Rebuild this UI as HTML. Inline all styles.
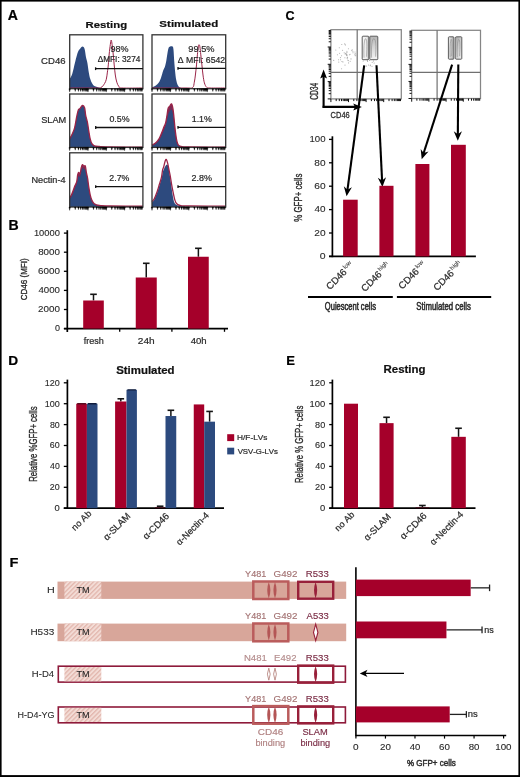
<!DOCTYPE html>
<html><head><meta charset="utf-8"><style>
html,body{margin:0;padding:0;background:#fff;overflow:hidden;width:520px;height:777px;}
svg{display:block;}
text{font-family:"Liberation Sans",sans-serif;font-kerning:none;}
</style></head><body>
<svg width="520" height="777" viewBox="0 0 520 777" style="will-change:transform;filter:blur(0.35px)">
<rect x="0" y="0" width="520" height="777" fill="#fff"/>
<rect x="0" y="0" width="1.6" height="777" fill="#000"/><rect x="0" y="0" width="520" height="1.6" fill="#000"/><rect x="518.4" y="0" width="1.6" height="777" fill="#000"/><rect x="0" y="775.1" width="520" height="1.9" fill="#000"/>
<text transform="translate(7.85,19.65) scale(1.025,1)" font-size="13.74" font-weight="bold" fill="#000" stroke="#000" stroke-width="0.215">A</text>
<text transform="translate(8.46,229.65) scale(0.985,1)" font-size="14.32" font-weight="bold" fill="#000" stroke="#000" stroke-width="0.223">B</text>
<text transform="translate(285.49,19.50) scale(0.942,1)" font-size="13.32" font-weight="bold" fill="#000" stroke="#000" stroke-width="0.234">C</text>
<text transform="translate(8.28,364.50) scale(1.036,1)" font-size="13.23" font-weight="bold" fill="#000" stroke="#000" stroke-width="0.212">D</text>
<text transform="translate(286.23,364.50) scale(0.984,1)" font-size="13.23" font-weight="bold" fill="#000" stroke="#000" stroke-width="0.224">E</text>
<text transform="translate(9.42,566.50) scale(1.115,1)" font-size="13.08" font-weight="bold" fill="#000" stroke="#000" stroke-width="0.197">F</text>
<text transform="translate(85.54,27.50) scale(1.227,1)" font-size="9.25" font-weight="bold" fill="#111" stroke="#111" stroke-width="0.179">Resting</text>
<text transform="translate(159.37,27.40) scale(1.195,1)" font-size="9.66" font-weight="bold" fill="#111" stroke="#111" stroke-width="0.184">Stimulated</text>
<text transform="translate(41.12,64.40) scale(0.995,1)" font-size="9.60" fill="#2a2a2a" stroke="#2a2a2a" stroke-width="0.221">CD46</text>
<text transform="translate(41.18,123.30) scale(1.076,1)" font-size="8.59" fill="#2a2a2a" stroke="#2a2a2a" stroke-width="0.204">SLAM</text>
<text transform="translate(31.45,183.10) scale(1.006,1)" font-size="9.11" fill="#2a2a2a" stroke="#2a2a2a" stroke-width="0.219">Nectin-4</text>
<path d="M69.70,78.80 C70.12,77.98 71.33,76.55 72.20,73.90 C73.07,71.25 74.15,65.90 74.90,62.90 C75.65,59.90 76.12,57.87 76.70,55.90 C77.28,53.93 77.83,52.30 78.40,51.10 C78.97,49.90 79.42,49.45 80.10,48.70 C80.78,47.95 81.75,46.55 82.50,46.60 C83.25,46.65 84.02,47.22 84.60,49.00 C85.18,50.78 85.53,54.98 86.00,57.30 C86.47,59.62 86.93,60.37 87.40,62.90 C87.87,65.43 88.33,69.85 88.80,72.50 C89.27,75.15 89.63,76.95 90.20,78.80 C90.77,80.65 91.52,82.38 92.20,83.60 C92.88,84.82 93.48,85.52 94.30,86.10 C95.12,86.68 96.15,86.82 97.10,87.10 C98.05,87.38 99.02,87.62 100.00,87.80 C100.98,87.98 102.50,88.13 103.00,88.20 L103.00,88.70 L69.70,88.70 Z" fill="#2d4a7e"/>
<path d="M69.70,88.00 C73.92,88.00 89.80,88.07 95.00,88.00 C100.20,87.93 99.32,88.33 100.90,87.60 C102.48,86.87 103.60,84.98 104.50,83.60 C105.40,82.22 105.82,81.22 106.30,79.30 C106.78,77.38 107.07,74.50 107.40,72.10 C107.73,69.70 108.00,67.92 108.30,64.90 C108.60,61.88 108.87,57.37 109.20,54.00 C109.53,50.63 109.97,47.03 110.30,44.70 C110.63,42.37 110.90,40.00 111.20,40.00 C111.50,40.00 111.77,42.37 112.10,44.70 C112.43,47.03 112.85,50.63 113.20,54.00 C113.55,57.37 113.85,61.40 114.20,64.90 C114.55,68.40 114.87,72.12 115.30,75.00 C115.73,77.88 116.20,80.28 116.80,82.20 C117.40,84.12 118.07,85.53 118.90,86.50 C119.73,87.47 117.80,87.75 121.80,88.00 C125.80,88.25 139.38,88.00 142.90,88.00" fill="none" stroke="#9a2448" stroke-width="1.0"/>
<rect x="69.70" y="34.80" width="73.20" height="53.90" fill="none" stroke="#333" stroke-width="1.3" />
<path d="M68.95,88.70 L70.45,88.70 L69.70,92.10 Z" fill="#000" stroke="#000" stroke-width="0.3"/>
<path d="M74.46,88.70 L75.96,88.70 L75.21,91.50 Z" fill="#000" stroke="#000" stroke-width="0.3"/>
<path d="M77.68,88.70 L79.18,88.70 L78.43,91.50 Z" fill="#000" stroke="#000" stroke-width="0.3"/>
<path d="M79.97,88.70 L81.47,88.70 L80.72,91.50 Z" fill="#000" stroke="#000" stroke-width="0.3"/>
<path d="M81.74,88.70 L83.24,88.70 L82.49,91.50 Z" fill="#000" stroke="#000" stroke-width="0.3"/>
<path d="M83.19,88.70 L84.69,88.70 L83.94,91.50 Z" fill="#000" stroke="#000" stroke-width="0.3"/>
<path d="M84.42,88.70 L85.92,88.70 L85.17,91.50 Z" fill="#000" stroke="#000" stroke-width="0.3"/>
<path d="M85.48,88.70 L86.98,88.70 L86.23,91.50 Z" fill="#000" stroke="#000" stroke-width="0.3"/>
<path d="M86.41,88.70 L87.91,88.70 L87.16,91.50 Z" fill="#000" stroke="#000" stroke-width="0.3"/>
<path d="M87.25,88.70 L88.75,88.70 L88.00,92.10 Z" fill="#000" stroke="#000" stroke-width="0.3"/>
<path d="M92.76,88.70 L94.26,88.70 L93.51,91.50 Z" fill="#000" stroke="#000" stroke-width="0.3"/>
<path d="M95.98,88.70 L97.48,88.70 L96.73,91.50 Z" fill="#000" stroke="#000" stroke-width="0.3"/>
<path d="M98.27,88.70 L99.77,88.70 L99.02,91.50 Z" fill="#000" stroke="#000" stroke-width="0.3"/>
<path d="M100.04,88.70 L101.54,88.70 L100.79,91.50 Z" fill="#000" stroke="#000" stroke-width="0.3"/>
<path d="M101.49,88.70 L102.99,88.70 L102.24,91.50 Z" fill="#000" stroke="#000" stroke-width="0.3"/>
<path d="M102.72,88.70 L104.22,88.70 L103.47,91.50 Z" fill="#000" stroke="#000" stroke-width="0.3"/>
<path d="M103.78,88.70 L105.28,88.70 L104.53,91.50 Z" fill="#000" stroke="#000" stroke-width="0.3"/>
<path d="M104.71,88.70 L106.21,88.70 L105.46,91.50 Z" fill="#000" stroke="#000" stroke-width="0.3"/>
<path d="M105.55,88.70 L107.05,88.70 L106.30,92.10 Z" fill="#000" stroke="#000" stroke-width="0.3"/>
<path d="M111.06,88.70 L112.56,88.70 L111.81,91.50 Z" fill="#000" stroke="#000" stroke-width="0.3"/>
<path d="M114.28,88.70 L115.78,88.70 L115.03,91.50 Z" fill="#000" stroke="#000" stroke-width="0.3"/>
<path d="M116.57,88.70 L118.07,88.70 L117.32,91.50 Z" fill="#000" stroke="#000" stroke-width="0.3"/>
<path d="M118.34,88.70 L119.84,88.70 L119.09,91.50 Z" fill="#000" stroke="#000" stroke-width="0.3"/>
<path d="M119.79,88.70 L121.29,88.70 L120.54,91.50 Z" fill="#000" stroke="#000" stroke-width="0.3"/>
<path d="M121.02,88.70 L122.52,88.70 L121.77,91.50 Z" fill="#000" stroke="#000" stroke-width="0.3"/>
<path d="M122.08,88.70 L123.58,88.70 L122.83,91.50 Z" fill="#000" stroke="#000" stroke-width="0.3"/>
<path d="M123.01,88.70 L124.51,88.70 L123.76,91.50 Z" fill="#000" stroke="#000" stroke-width="0.3"/>
<path d="M123.85,88.70 L125.35,88.70 L124.60,92.10 Z" fill="#000" stroke="#000" stroke-width="0.3"/>
<path d="M129.36,88.70 L130.86,88.70 L130.11,91.50 Z" fill="#000" stroke="#000" stroke-width="0.3"/>
<path d="M132.58,88.70 L134.08,88.70 L133.33,91.50 Z" fill="#000" stroke="#000" stroke-width="0.3"/>
<path d="M134.87,88.70 L136.37,88.70 L135.62,91.50 Z" fill="#000" stroke="#000" stroke-width="0.3"/>
<path d="M136.64,88.70 L138.14,88.70 L137.39,91.50 Z" fill="#000" stroke="#000" stroke-width="0.3"/>
<path d="M138.09,88.70 L139.59,88.70 L138.84,91.50 Z" fill="#000" stroke="#000" stroke-width="0.3"/>
<path d="M139.32,88.70 L140.82,88.70 L140.07,91.50 Z" fill="#000" stroke="#000" stroke-width="0.3"/>
<path d="M140.38,88.70 L141.88,88.70 L141.13,91.50 Z" fill="#000" stroke="#000" stroke-width="0.3"/>
<path d="M141.31,88.70 L142.81,88.70 L142.06,91.50 Z" fill="#000" stroke="#000" stroke-width="0.3"/>
<path d="M69.70,138.90 C70.12,138.08 71.38,135.85 72.20,134.00 C73.02,132.15 73.85,130.68 74.60,127.80 C75.35,124.92 76.07,119.70 76.70,116.70 C77.33,113.70 77.83,111.18 78.40,109.80 C78.97,108.42 79.42,109.15 80.10,108.40 C80.78,107.65 81.75,105.42 82.50,105.30 C83.25,105.18 84.07,106.03 84.60,107.70 C85.13,109.37 85.23,112.88 85.70,115.30 C86.17,117.72 86.88,119.55 87.40,122.20 C87.92,124.85 88.33,128.42 88.80,131.20 C89.27,133.98 89.68,136.82 90.20,138.90 C90.72,140.98 91.22,142.55 91.90,143.70 C92.58,144.85 93.08,145.33 94.30,145.80 C95.52,146.27 96.58,146.30 99.20,146.50 C101.82,146.70 102.72,146.90 110.00,147.00 C117.28,147.10 137.42,147.08 142.90,147.10 L142.90,147.40 L69.70,147.40 Z" fill="#7a2a55"/>
<path d="M69.70,139.40 C70.12,138.58 71.38,136.35 72.20,134.50 C73.02,132.65 73.85,131.13 74.60,128.30 C75.35,125.47 76.07,120.42 76.70,117.50 C77.33,114.58 77.83,112.22 78.40,110.80 C78.97,109.38 79.42,109.75 80.10,109.00 C80.78,108.25 81.75,106.35 82.50,106.30 C83.25,106.25 84.07,107.12 84.60,108.70 C85.13,110.28 85.23,113.47 85.70,115.80 C86.17,118.13 86.88,120.08 87.40,122.70 C87.92,125.32 88.33,128.78 88.80,131.50 C89.27,134.22 89.68,136.97 90.20,139.00 C90.72,141.03 91.22,142.57 91.90,143.70 C92.58,144.83 93.08,145.33 94.30,145.80 C95.52,146.27 97.75,146.30 99.20,146.50 C100.65,146.70 102.37,146.92 103.00,147.00 L103.00,147.40 L69.70,147.40 Z" fill="#2d4a7e"/>
<path d="M69.70,138.90 C70.12,138.08 71.38,135.85 72.20,134.00 C73.02,132.15 73.85,130.68 74.60,127.80 C75.35,124.92 76.07,119.70 76.70,116.70 C77.33,113.70 77.83,111.18 78.40,109.80 C78.97,108.42 79.42,109.15 80.10,108.40 C80.78,107.65 81.75,105.42 82.50,105.30 C83.25,105.18 84.07,106.03 84.60,107.70 C85.13,109.37 85.23,112.88 85.70,115.30 C86.17,117.72 86.88,119.55 87.40,122.20 C87.92,124.85 88.33,128.42 88.80,131.20 C89.27,133.98 89.68,136.82 90.20,138.90 C90.72,140.98 91.22,142.55 91.90,143.70 C92.58,144.85 93.08,145.33 94.30,145.80 C95.52,146.27 96.58,146.30 99.20,146.50 C101.82,146.70 102.72,146.90 110.00,147.00 C117.28,147.10 137.42,147.08 142.90,147.10" fill="none" stroke="#9a2448" stroke-width="1.3"/>
<rect x="69.70" y="94.00" width="73.20" height="53.40" fill="none" stroke="#333" stroke-width="1.3" />
<path d="M68.95,147.40 L70.45,147.40 L69.70,150.80 Z" fill="#000" stroke="#000" stroke-width="0.3"/>
<path d="M74.46,147.40 L75.96,147.40 L75.21,150.20 Z" fill="#000" stroke="#000" stroke-width="0.3"/>
<path d="M77.68,147.40 L79.18,147.40 L78.43,150.20 Z" fill="#000" stroke="#000" stroke-width="0.3"/>
<path d="M79.97,147.40 L81.47,147.40 L80.72,150.20 Z" fill="#000" stroke="#000" stroke-width="0.3"/>
<path d="M81.74,147.40 L83.24,147.40 L82.49,150.20 Z" fill="#000" stroke="#000" stroke-width="0.3"/>
<path d="M83.19,147.40 L84.69,147.40 L83.94,150.20 Z" fill="#000" stroke="#000" stroke-width="0.3"/>
<path d="M84.42,147.40 L85.92,147.40 L85.17,150.20 Z" fill="#000" stroke="#000" stroke-width="0.3"/>
<path d="M85.48,147.40 L86.98,147.40 L86.23,150.20 Z" fill="#000" stroke="#000" stroke-width="0.3"/>
<path d="M86.41,147.40 L87.91,147.40 L87.16,150.20 Z" fill="#000" stroke="#000" stroke-width="0.3"/>
<path d="M87.25,147.40 L88.75,147.40 L88.00,150.80 Z" fill="#000" stroke="#000" stroke-width="0.3"/>
<path d="M92.76,147.40 L94.26,147.40 L93.51,150.20 Z" fill="#000" stroke="#000" stroke-width="0.3"/>
<path d="M95.98,147.40 L97.48,147.40 L96.73,150.20 Z" fill="#000" stroke="#000" stroke-width="0.3"/>
<path d="M98.27,147.40 L99.77,147.40 L99.02,150.20 Z" fill="#000" stroke="#000" stroke-width="0.3"/>
<path d="M100.04,147.40 L101.54,147.40 L100.79,150.20 Z" fill="#000" stroke="#000" stroke-width="0.3"/>
<path d="M101.49,147.40 L102.99,147.40 L102.24,150.20 Z" fill="#000" stroke="#000" stroke-width="0.3"/>
<path d="M102.72,147.40 L104.22,147.40 L103.47,150.20 Z" fill="#000" stroke="#000" stroke-width="0.3"/>
<path d="M103.78,147.40 L105.28,147.40 L104.53,150.20 Z" fill="#000" stroke="#000" stroke-width="0.3"/>
<path d="M104.71,147.40 L106.21,147.40 L105.46,150.20 Z" fill="#000" stroke="#000" stroke-width="0.3"/>
<path d="M105.55,147.40 L107.05,147.40 L106.30,150.80 Z" fill="#000" stroke="#000" stroke-width="0.3"/>
<path d="M111.06,147.40 L112.56,147.40 L111.81,150.20 Z" fill="#000" stroke="#000" stroke-width="0.3"/>
<path d="M114.28,147.40 L115.78,147.40 L115.03,150.20 Z" fill="#000" stroke="#000" stroke-width="0.3"/>
<path d="M116.57,147.40 L118.07,147.40 L117.32,150.20 Z" fill="#000" stroke="#000" stroke-width="0.3"/>
<path d="M118.34,147.40 L119.84,147.40 L119.09,150.20 Z" fill="#000" stroke="#000" stroke-width="0.3"/>
<path d="M119.79,147.40 L121.29,147.40 L120.54,150.20 Z" fill="#000" stroke="#000" stroke-width="0.3"/>
<path d="M121.02,147.40 L122.52,147.40 L121.77,150.20 Z" fill="#000" stroke="#000" stroke-width="0.3"/>
<path d="M122.08,147.40 L123.58,147.40 L122.83,150.20 Z" fill="#000" stroke="#000" stroke-width="0.3"/>
<path d="M123.01,147.40 L124.51,147.40 L123.76,150.20 Z" fill="#000" stroke="#000" stroke-width="0.3"/>
<path d="M123.85,147.40 L125.35,147.40 L124.60,150.80 Z" fill="#000" stroke="#000" stroke-width="0.3"/>
<path d="M129.36,147.40 L130.86,147.40 L130.11,150.20 Z" fill="#000" stroke="#000" stroke-width="0.3"/>
<path d="M132.58,147.40 L134.08,147.40 L133.33,150.20 Z" fill="#000" stroke="#000" stroke-width="0.3"/>
<path d="M134.87,147.40 L136.37,147.40 L135.62,150.20 Z" fill="#000" stroke="#000" stroke-width="0.3"/>
<path d="M136.64,147.40 L138.14,147.40 L137.39,150.20 Z" fill="#000" stroke="#000" stroke-width="0.3"/>
<path d="M138.09,147.40 L139.59,147.40 L138.84,150.20 Z" fill="#000" stroke="#000" stroke-width="0.3"/>
<path d="M139.32,147.40 L140.82,147.40 L140.07,150.20 Z" fill="#000" stroke="#000" stroke-width="0.3"/>
<path d="M140.38,147.40 L141.88,147.40 L141.13,150.20 Z" fill="#000" stroke="#000" stroke-width="0.3"/>
<path d="M141.31,147.40 L142.81,147.40 L142.06,150.20 Z" fill="#000" stroke="#000" stroke-width="0.3"/>
<path d="M69.70,197.60 C70.00,197.13 70.92,195.97 71.50,194.80 C72.08,193.63 72.63,192.10 73.20,190.60 C73.77,189.10 74.32,187.30 74.90,185.80 C75.48,184.30 76.23,183.45 76.70,181.60 C77.17,179.75 77.37,176.25 77.70,174.70 C78.03,173.15 78.30,172.42 78.70,172.30 C79.10,172.18 79.68,174.75 80.10,174.00 C80.52,173.25 80.80,169.35 81.20,167.80 C81.60,166.25 82.05,164.93 82.50,164.70 C82.95,164.47 83.43,166.18 83.90,166.40 C84.37,166.62 84.88,164.97 85.30,166.00 C85.72,167.03 86.00,170.45 86.40,172.60 C86.80,174.75 87.30,176.47 87.70,178.90 C88.10,181.33 88.38,184.55 88.80,187.20 C89.22,189.85 89.68,192.62 90.20,194.80 C90.72,196.98 91.22,198.80 91.90,200.30 C92.58,201.80 93.08,202.93 94.30,203.80 C95.52,204.67 96.58,205.13 99.20,205.50 C101.82,205.87 102.72,205.90 110.00,206.00 C117.28,206.10 137.42,206.08 142.90,206.10 L142.90,207.00 L69.70,207.00 Z" fill="#7a2a55"/>
<path d="M69.70,199.00 C70.00,198.58 70.92,197.58 71.50,196.50 C72.08,195.42 72.63,193.92 73.20,192.50 C73.77,191.08 74.32,189.42 74.90,188.00 C75.48,186.58 76.23,185.67 76.70,184.00 C77.17,182.33 77.37,179.33 77.70,178.00 C78.03,176.67 78.30,176.17 78.70,176.00 C79.10,175.83 79.68,177.83 80.10,177.00 C80.52,176.17 80.80,172.50 81.20,171.00 C81.60,169.50 82.05,168.25 82.50,168.00 C82.95,167.75 83.43,169.33 83.90,169.50 C84.37,169.67 84.88,168.08 85.30,169.00 C85.72,169.92 86.00,173.00 86.40,175.00 C86.80,177.00 87.30,178.67 87.70,181.00 C88.10,183.33 88.38,186.50 88.80,189.00 C89.22,191.50 89.68,194.00 90.20,196.00 C90.72,198.00 91.22,199.63 91.90,201.00 C92.58,202.37 93.08,203.43 94.30,204.20 C95.52,204.97 97.58,205.30 99.20,205.60 C100.82,205.90 103.20,205.93 104.00,206.00 L104.00,207.00 L69.70,207.00 Z" fill="#2d4a7e"/>
<path d="M69.70,197.60 C70.00,197.13 70.92,195.97 71.50,194.80 C72.08,193.63 72.63,192.10 73.20,190.60 C73.77,189.10 74.32,187.30 74.90,185.80 C75.48,184.30 76.23,183.45 76.70,181.60 C77.17,179.75 77.37,176.25 77.70,174.70 C78.03,173.15 78.30,172.42 78.70,172.30 C79.10,172.18 79.68,174.75 80.10,174.00 C80.52,173.25 80.80,169.35 81.20,167.80 C81.60,166.25 82.05,164.93 82.50,164.70 C82.95,164.47 83.43,166.18 83.90,166.40 C84.37,166.62 84.88,164.97 85.30,166.00 C85.72,167.03 86.00,170.45 86.40,172.60 C86.80,174.75 87.30,176.47 87.70,178.90 C88.10,181.33 88.38,184.55 88.80,187.20 C89.22,189.85 89.68,192.62 90.20,194.80 C90.72,196.98 91.22,198.80 91.90,200.30 C92.58,201.80 93.08,202.93 94.30,203.80 C95.52,204.67 96.58,205.13 99.20,205.50 C101.82,205.87 102.72,205.90 110.00,206.00 C117.28,206.10 137.42,206.08 142.90,206.10" fill="none" stroke="#9a2448" stroke-width="1.3"/>
<rect x="69.70" y="152.80" width="73.20" height="54.20" fill="none" stroke="#333" stroke-width="1.3" />
<path d="M68.95,207.00 L70.45,207.00 L69.70,210.40 Z" fill="#000" stroke="#000" stroke-width="0.3"/>
<path d="M74.46,207.00 L75.96,207.00 L75.21,209.80 Z" fill="#000" stroke="#000" stroke-width="0.3"/>
<path d="M77.68,207.00 L79.18,207.00 L78.43,209.80 Z" fill="#000" stroke="#000" stroke-width="0.3"/>
<path d="M79.97,207.00 L81.47,207.00 L80.72,209.80 Z" fill="#000" stroke="#000" stroke-width="0.3"/>
<path d="M81.74,207.00 L83.24,207.00 L82.49,209.80 Z" fill="#000" stroke="#000" stroke-width="0.3"/>
<path d="M83.19,207.00 L84.69,207.00 L83.94,209.80 Z" fill="#000" stroke="#000" stroke-width="0.3"/>
<path d="M84.42,207.00 L85.92,207.00 L85.17,209.80 Z" fill="#000" stroke="#000" stroke-width="0.3"/>
<path d="M85.48,207.00 L86.98,207.00 L86.23,209.80 Z" fill="#000" stroke="#000" stroke-width="0.3"/>
<path d="M86.41,207.00 L87.91,207.00 L87.16,209.80 Z" fill="#000" stroke="#000" stroke-width="0.3"/>
<path d="M87.25,207.00 L88.75,207.00 L88.00,210.40 Z" fill="#000" stroke="#000" stroke-width="0.3"/>
<path d="M92.76,207.00 L94.26,207.00 L93.51,209.80 Z" fill="#000" stroke="#000" stroke-width="0.3"/>
<path d="M95.98,207.00 L97.48,207.00 L96.73,209.80 Z" fill="#000" stroke="#000" stroke-width="0.3"/>
<path d="M98.27,207.00 L99.77,207.00 L99.02,209.80 Z" fill="#000" stroke="#000" stroke-width="0.3"/>
<path d="M100.04,207.00 L101.54,207.00 L100.79,209.80 Z" fill="#000" stroke="#000" stroke-width="0.3"/>
<path d="M101.49,207.00 L102.99,207.00 L102.24,209.80 Z" fill="#000" stroke="#000" stroke-width="0.3"/>
<path d="M102.72,207.00 L104.22,207.00 L103.47,209.80 Z" fill="#000" stroke="#000" stroke-width="0.3"/>
<path d="M103.78,207.00 L105.28,207.00 L104.53,209.80 Z" fill="#000" stroke="#000" stroke-width="0.3"/>
<path d="M104.71,207.00 L106.21,207.00 L105.46,209.80 Z" fill="#000" stroke="#000" stroke-width="0.3"/>
<path d="M105.55,207.00 L107.05,207.00 L106.30,210.40 Z" fill="#000" stroke="#000" stroke-width="0.3"/>
<path d="M111.06,207.00 L112.56,207.00 L111.81,209.80 Z" fill="#000" stroke="#000" stroke-width="0.3"/>
<path d="M114.28,207.00 L115.78,207.00 L115.03,209.80 Z" fill="#000" stroke="#000" stroke-width="0.3"/>
<path d="M116.57,207.00 L118.07,207.00 L117.32,209.80 Z" fill="#000" stroke="#000" stroke-width="0.3"/>
<path d="M118.34,207.00 L119.84,207.00 L119.09,209.80 Z" fill="#000" stroke="#000" stroke-width="0.3"/>
<path d="M119.79,207.00 L121.29,207.00 L120.54,209.80 Z" fill="#000" stroke="#000" stroke-width="0.3"/>
<path d="M121.02,207.00 L122.52,207.00 L121.77,209.80 Z" fill="#000" stroke="#000" stroke-width="0.3"/>
<path d="M122.08,207.00 L123.58,207.00 L122.83,209.80 Z" fill="#000" stroke="#000" stroke-width="0.3"/>
<path d="M123.01,207.00 L124.51,207.00 L123.76,209.80 Z" fill="#000" stroke="#000" stroke-width="0.3"/>
<path d="M123.85,207.00 L125.35,207.00 L124.60,210.40 Z" fill="#000" stroke="#000" stroke-width="0.3"/>
<path d="M129.36,207.00 L130.86,207.00 L130.11,209.80 Z" fill="#000" stroke="#000" stroke-width="0.3"/>
<path d="M132.58,207.00 L134.08,207.00 L133.33,209.80 Z" fill="#000" stroke="#000" stroke-width="0.3"/>
<path d="M134.87,207.00 L136.37,207.00 L135.62,209.80 Z" fill="#000" stroke="#000" stroke-width="0.3"/>
<path d="M136.64,207.00 L138.14,207.00 L137.39,209.80 Z" fill="#000" stroke="#000" stroke-width="0.3"/>
<path d="M138.09,207.00 L139.59,207.00 L138.84,209.80 Z" fill="#000" stroke="#000" stroke-width="0.3"/>
<path d="M139.32,207.00 L140.82,207.00 L140.07,209.80 Z" fill="#000" stroke="#000" stroke-width="0.3"/>
<path d="M140.38,207.00 L141.88,207.00 L141.13,209.80 Z" fill="#000" stroke="#000" stroke-width="0.3"/>
<path d="M141.31,207.00 L142.81,207.00 L142.06,209.80 Z" fill="#000" stroke="#000" stroke-width="0.3"/>
<path d="M152.00,87.10 C152.58,86.87 154.33,86.52 155.50,85.70 C156.67,84.88 158.07,83.58 159.00,82.20 C159.93,80.82 160.40,79.35 161.10,77.40 C161.80,75.45 162.57,72.28 163.20,70.50 C163.83,68.72 164.38,68.32 164.90,66.70 C165.42,65.08 165.83,63.28 166.30,60.80 C166.77,58.32 167.32,53.93 167.70,51.80 C168.08,49.67 168.20,48.87 168.60,48.00 C169.00,47.13 169.45,46.83 170.10,46.60 C170.75,46.37 171.93,46.08 172.50,46.60 C173.07,47.12 173.22,47.33 173.50,49.70 C173.78,52.07 173.90,56.88 174.20,60.80 C174.50,64.72 174.95,69.97 175.30,73.20 C175.65,76.43 175.90,78.23 176.30,80.20 C176.70,82.17 177.12,83.80 177.70,85.00 C178.28,86.20 178.88,86.90 179.80,87.40 C180.72,87.90 182.63,87.90 183.20,88.00 L183.20,88.70 L152.00,88.70 Z" fill="#2d4a7e"/>
<path d="M152.00,88.00 C157.50,88.00 178.25,88.07 185.00,88.00 C191.75,87.93 190.95,88.57 192.50,87.60 C194.05,86.63 193.82,84.30 194.30,82.20 C194.78,80.10 195.03,77.88 195.40,75.00 C195.77,72.12 196.17,68.27 196.50,64.90 C196.83,61.53 197.10,57.82 197.40,54.80 C197.70,51.78 198.03,48.48 198.30,46.80 C198.57,45.12 198.73,44.70 199.00,44.70 C199.27,44.70 199.60,45.12 199.90,46.80 C200.20,48.48 200.47,51.78 200.80,54.80 C201.13,57.82 201.53,61.53 201.90,64.90 C202.27,68.27 202.58,72.00 203.00,75.00 C203.42,78.00 203.80,80.87 204.40,82.90 C205.00,84.93 205.67,86.35 206.60,87.20 C207.53,88.05 206.82,87.87 210.00,88.00 C213.18,88.13 223.08,88.00 225.70,88.00" fill="none" stroke="#9a2448" stroke-width="1.0"/>
<rect x="152.00" y="34.80" width="73.70" height="53.90" fill="none" stroke="#333" stroke-width="1.3" />
<path d="M151.25,88.70 L152.75,88.70 L152.00,92.10 Z" fill="#000" stroke="#000" stroke-width="0.3"/>
<path d="M156.80,88.70 L158.30,88.70 L157.55,91.50 Z" fill="#000" stroke="#000" stroke-width="0.3"/>
<path d="M160.04,88.70 L161.54,88.70 L160.79,91.50 Z" fill="#000" stroke="#000" stroke-width="0.3"/>
<path d="M162.34,88.70 L163.84,88.70 L163.09,91.50 Z" fill="#000" stroke="#000" stroke-width="0.3"/>
<path d="M164.13,88.70 L165.63,88.70 L164.88,91.50 Z" fill="#000" stroke="#000" stroke-width="0.3"/>
<path d="M165.59,88.70 L167.09,88.70 L166.34,91.50 Z" fill="#000" stroke="#000" stroke-width="0.3"/>
<path d="M166.82,88.70 L168.32,88.70 L167.57,91.50 Z" fill="#000" stroke="#000" stroke-width="0.3"/>
<path d="M167.89,88.70 L169.39,88.70 L168.64,91.50 Z" fill="#000" stroke="#000" stroke-width="0.3"/>
<path d="M168.83,88.70 L170.33,88.70 L169.58,91.50 Z" fill="#000" stroke="#000" stroke-width="0.3"/>
<path d="M169.68,88.70 L171.18,88.70 L170.43,92.10 Z" fill="#000" stroke="#000" stroke-width="0.3"/>
<path d="M175.22,88.70 L176.72,88.70 L175.97,91.50 Z" fill="#000" stroke="#000" stroke-width="0.3"/>
<path d="M178.47,88.70 L179.97,88.70 L179.22,91.50 Z" fill="#000" stroke="#000" stroke-width="0.3"/>
<path d="M180.77,88.70 L182.27,88.70 L181.52,91.50 Z" fill="#000" stroke="#000" stroke-width="0.3"/>
<path d="M182.55,88.70 L184.05,88.70 L183.30,91.50 Z" fill="#000" stroke="#000" stroke-width="0.3"/>
<path d="M184.01,88.70 L185.51,88.70 L184.76,91.50 Z" fill="#000" stroke="#000" stroke-width="0.3"/>
<path d="M185.25,88.70 L186.75,88.70 L186.00,91.50 Z" fill="#000" stroke="#000" stroke-width="0.3"/>
<path d="M186.31,88.70 L187.81,88.70 L187.06,91.50 Z" fill="#000" stroke="#000" stroke-width="0.3"/>
<path d="M187.26,88.70 L188.76,88.70 L188.01,91.50 Z" fill="#000" stroke="#000" stroke-width="0.3"/>
<path d="M188.10,88.70 L189.60,88.70 L188.85,92.10 Z" fill="#000" stroke="#000" stroke-width="0.3"/>
<path d="M193.65,88.70 L195.15,88.70 L194.40,91.50 Z" fill="#000" stroke="#000" stroke-width="0.3"/>
<path d="M196.89,88.70 L198.39,88.70 L197.64,91.50 Z" fill="#000" stroke="#000" stroke-width="0.3"/>
<path d="M199.19,88.70 L200.69,88.70 L199.94,91.50 Z" fill="#000" stroke="#000" stroke-width="0.3"/>
<path d="M200.98,88.70 L202.48,88.70 L201.73,91.50 Z" fill="#000" stroke="#000" stroke-width="0.3"/>
<path d="M202.44,88.70 L203.94,88.70 L203.19,91.50 Z" fill="#000" stroke="#000" stroke-width="0.3"/>
<path d="M203.67,88.70 L205.17,88.70 L204.42,91.50 Z" fill="#000" stroke="#000" stroke-width="0.3"/>
<path d="M204.74,88.70 L206.24,88.70 L205.49,91.50 Z" fill="#000" stroke="#000" stroke-width="0.3"/>
<path d="M205.68,88.70 L207.18,88.70 L206.43,91.50 Z" fill="#000" stroke="#000" stroke-width="0.3"/>
<path d="M206.52,88.70 L208.02,88.70 L207.27,92.10 Z" fill="#000" stroke="#000" stroke-width="0.3"/>
<path d="M212.07,88.70 L213.57,88.70 L212.82,91.50 Z" fill="#000" stroke="#000" stroke-width="0.3"/>
<path d="M215.32,88.70 L216.82,88.70 L216.07,91.50 Z" fill="#000" stroke="#000" stroke-width="0.3"/>
<path d="M217.62,88.70 L219.12,88.70 L218.37,91.50 Z" fill="#000" stroke="#000" stroke-width="0.3"/>
<path d="M219.40,88.70 L220.90,88.70 L220.15,91.50 Z" fill="#000" stroke="#000" stroke-width="0.3"/>
<path d="M220.86,88.70 L222.36,88.70 L221.61,91.50 Z" fill="#000" stroke="#000" stroke-width="0.3"/>
<path d="M222.10,88.70 L223.60,88.70 L222.85,91.50 Z" fill="#000" stroke="#000" stroke-width="0.3"/>
<path d="M223.16,88.70 L224.66,88.70 L223.91,91.50 Z" fill="#000" stroke="#000" stroke-width="0.3"/>
<path d="M224.11,88.70 L225.61,88.70 L224.86,91.50 Z" fill="#000" stroke="#000" stroke-width="0.3"/>
<path d="M152.00,145.10 C152.58,144.75 154.33,144.03 155.50,143.00 C156.67,141.97 157.95,140.63 159.00,138.90 C160.05,137.17 160.98,134.57 161.80,132.60 C162.62,130.63 163.27,128.72 163.90,127.10 C164.53,125.48 165.08,124.87 165.60,122.90 C166.12,120.93 166.58,117.72 167.00,115.30 C167.42,112.88 167.65,109.90 168.10,108.40 C168.55,106.90 169.13,107.05 169.70,106.30 C170.27,105.55 170.97,103.55 171.50,103.90 C172.03,104.25 172.50,106.27 172.90,108.40 C173.30,110.53 173.57,113.58 173.90,116.70 C174.23,119.82 174.55,123.87 174.90,127.10 C175.25,130.33 175.65,133.68 176.00,136.10 C176.35,138.52 176.60,140.10 177.00,141.60 C177.40,143.10 177.70,144.28 178.40,145.10 C179.10,145.92 179.27,146.18 181.20,146.50 C183.13,146.82 182.58,146.90 190.00,147.00 C197.42,147.10 219.75,147.08 225.70,147.10 L225.70,147.40 L152.00,147.40 Z" fill="#7a2a55"/>
<path d="M152.00,145.80 C152.58,145.50 154.33,144.88 155.50,144.00 C156.67,143.12 157.95,142.00 159.00,140.50 C160.05,139.00 160.98,136.75 161.80,135.00 C162.62,133.25 163.27,131.50 163.90,130.00 C164.53,128.50 165.08,127.67 165.60,126.00 C166.12,124.33 166.53,122.00 167.00,120.00 C167.47,118.00 167.90,115.50 168.40,114.00 C168.90,112.50 169.48,111.75 170.00,111.00 C170.52,110.25 171.07,109.33 171.50,109.50 C171.93,109.67 172.27,110.42 172.60,112.00 C172.93,113.58 173.18,116.33 173.50,119.00 C173.82,121.67 174.17,125.08 174.50,128.00 C174.83,130.92 175.15,134.20 175.50,136.50 C175.85,138.80 176.15,140.33 176.60,141.80 C177.05,143.27 177.43,144.50 178.20,145.30 C178.97,146.10 180.70,146.38 181.20,146.60 L181.20,147.40 L152.00,147.40 Z" fill="#2d4a7e"/>
<path d="M152.00,145.10 C152.58,144.75 154.33,144.03 155.50,143.00 C156.67,141.97 157.95,140.63 159.00,138.90 C160.05,137.17 160.98,134.57 161.80,132.60 C162.62,130.63 163.27,128.72 163.90,127.10 C164.53,125.48 165.08,124.87 165.60,122.90 C166.12,120.93 166.58,117.72 167.00,115.30 C167.42,112.88 167.65,109.90 168.10,108.40 C168.55,106.90 169.13,107.05 169.70,106.30 C170.27,105.55 170.97,103.55 171.50,103.90 C172.03,104.25 172.50,106.27 172.90,108.40 C173.30,110.53 173.57,113.58 173.90,116.70 C174.23,119.82 174.55,123.87 174.90,127.10 C175.25,130.33 175.65,133.68 176.00,136.10 C176.35,138.52 176.60,140.10 177.00,141.60 C177.40,143.10 177.70,144.28 178.40,145.10 C179.10,145.92 179.27,146.18 181.20,146.50 C183.13,146.82 182.58,146.90 190.00,147.00 C197.42,147.10 219.75,147.08 225.70,147.10" fill="none" stroke="#9a2448" stroke-width="1.3"/>
<rect x="152.00" y="94.00" width="73.70" height="53.40" fill="none" stroke="#333" stroke-width="1.3" />
<path d="M151.25,147.40 L152.75,147.40 L152.00,150.80 Z" fill="#000" stroke="#000" stroke-width="0.3"/>
<path d="M156.80,147.40 L158.30,147.40 L157.55,150.20 Z" fill="#000" stroke="#000" stroke-width="0.3"/>
<path d="M160.04,147.40 L161.54,147.40 L160.79,150.20 Z" fill="#000" stroke="#000" stroke-width="0.3"/>
<path d="M162.34,147.40 L163.84,147.40 L163.09,150.20 Z" fill="#000" stroke="#000" stroke-width="0.3"/>
<path d="M164.13,147.40 L165.63,147.40 L164.88,150.20 Z" fill="#000" stroke="#000" stroke-width="0.3"/>
<path d="M165.59,147.40 L167.09,147.40 L166.34,150.20 Z" fill="#000" stroke="#000" stroke-width="0.3"/>
<path d="M166.82,147.40 L168.32,147.40 L167.57,150.20 Z" fill="#000" stroke="#000" stroke-width="0.3"/>
<path d="M167.89,147.40 L169.39,147.40 L168.64,150.20 Z" fill="#000" stroke="#000" stroke-width="0.3"/>
<path d="M168.83,147.40 L170.33,147.40 L169.58,150.20 Z" fill="#000" stroke="#000" stroke-width="0.3"/>
<path d="M169.68,147.40 L171.18,147.40 L170.43,150.80 Z" fill="#000" stroke="#000" stroke-width="0.3"/>
<path d="M175.22,147.40 L176.72,147.40 L175.97,150.20 Z" fill="#000" stroke="#000" stroke-width="0.3"/>
<path d="M178.47,147.40 L179.97,147.40 L179.22,150.20 Z" fill="#000" stroke="#000" stroke-width="0.3"/>
<path d="M180.77,147.40 L182.27,147.40 L181.52,150.20 Z" fill="#000" stroke="#000" stroke-width="0.3"/>
<path d="M182.55,147.40 L184.05,147.40 L183.30,150.20 Z" fill="#000" stroke="#000" stroke-width="0.3"/>
<path d="M184.01,147.40 L185.51,147.40 L184.76,150.20 Z" fill="#000" stroke="#000" stroke-width="0.3"/>
<path d="M185.25,147.40 L186.75,147.40 L186.00,150.20 Z" fill="#000" stroke="#000" stroke-width="0.3"/>
<path d="M186.31,147.40 L187.81,147.40 L187.06,150.20 Z" fill="#000" stroke="#000" stroke-width="0.3"/>
<path d="M187.26,147.40 L188.76,147.40 L188.01,150.20 Z" fill="#000" stroke="#000" stroke-width="0.3"/>
<path d="M188.10,147.40 L189.60,147.40 L188.85,150.80 Z" fill="#000" stroke="#000" stroke-width="0.3"/>
<path d="M193.65,147.40 L195.15,147.40 L194.40,150.20 Z" fill="#000" stroke="#000" stroke-width="0.3"/>
<path d="M196.89,147.40 L198.39,147.40 L197.64,150.20 Z" fill="#000" stroke="#000" stroke-width="0.3"/>
<path d="M199.19,147.40 L200.69,147.40 L199.94,150.20 Z" fill="#000" stroke="#000" stroke-width="0.3"/>
<path d="M200.98,147.40 L202.48,147.40 L201.73,150.20 Z" fill="#000" stroke="#000" stroke-width="0.3"/>
<path d="M202.44,147.40 L203.94,147.40 L203.19,150.20 Z" fill="#000" stroke="#000" stroke-width="0.3"/>
<path d="M203.67,147.40 L205.17,147.40 L204.42,150.20 Z" fill="#000" stroke="#000" stroke-width="0.3"/>
<path d="M204.74,147.40 L206.24,147.40 L205.49,150.20 Z" fill="#000" stroke="#000" stroke-width="0.3"/>
<path d="M205.68,147.40 L207.18,147.40 L206.43,150.20 Z" fill="#000" stroke="#000" stroke-width="0.3"/>
<path d="M206.52,147.40 L208.02,147.40 L207.27,150.80 Z" fill="#000" stroke="#000" stroke-width="0.3"/>
<path d="M212.07,147.40 L213.57,147.40 L212.82,150.20 Z" fill="#000" stroke="#000" stroke-width="0.3"/>
<path d="M215.32,147.40 L216.82,147.40 L216.07,150.20 Z" fill="#000" stroke="#000" stroke-width="0.3"/>
<path d="M217.62,147.40 L219.12,147.40 L218.37,150.20 Z" fill="#000" stroke="#000" stroke-width="0.3"/>
<path d="M219.40,147.40 L220.90,147.40 L220.15,150.20 Z" fill="#000" stroke="#000" stroke-width="0.3"/>
<path d="M220.86,147.40 L222.36,147.40 L221.61,150.20 Z" fill="#000" stroke="#000" stroke-width="0.3"/>
<path d="M222.10,147.40 L223.60,147.40 L222.85,150.20 Z" fill="#000" stroke="#000" stroke-width="0.3"/>
<path d="M223.16,147.40 L224.66,147.40 L223.91,150.20 Z" fill="#000" stroke="#000" stroke-width="0.3"/>
<path d="M224.11,147.40 L225.61,147.40 L224.86,150.20 Z" fill="#000" stroke="#000" stroke-width="0.3"/>
<path d="M152.00,201.60 C152.38,201.12 153.43,200.38 154.30,198.70 C155.17,197.02 156.35,193.90 157.20,191.50 C158.05,189.10 158.68,186.70 159.40,184.30 C160.12,181.90 160.97,179.50 161.50,177.10 C162.03,174.70 162.23,171.58 162.60,169.90 C162.97,168.22 163.28,168.45 163.70,167.00 C164.12,165.55 164.65,162.47 165.10,161.20 C165.55,159.93 165.97,159.03 166.40,159.40 C166.83,159.77 167.32,161.90 167.70,163.40 C168.08,164.90 168.28,166.37 168.70,168.40 C169.12,170.43 169.72,172.95 170.20,175.60 C170.68,178.25 171.12,181.53 171.60,184.30 C172.08,187.07 172.55,189.57 173.10,192.20 C173.65,194.83 174.30,198.18 174.90,200.10 C175.50,202.02 175.80,202.80 176.70,203.70 C177.60,204.60 178.08,205.12 180.30,205.50 C182.52,205.88 182.43,205.90 190.00,206.00 C197.57,206.10 219.75,206.08 225.70,206.10 L225.70,207.00 L152.00,207.00 Z" fill="#fff"/>
<path d="M152.00,202.60 C152.38,202.10 153.43,201.27 154.30,199.60 C155.17,197.93 156.35,194.93 157.20,192.60 C158.05,190.27 158.68,187.93 159.40,185.60 C160.12,183.27 160.93,180.83 161.50,178.60 C162.07,176.37 162.35,173.87 162.80,172.20 C163.25,170.53 163.73,169.67 164.20,168.60 C164.67,167.53 165.13,166.47 165.60,165.80 C166.07,165.13 166.55,164.48 167.00,164.60 C167.45,164.72 167.92,165.27 168.30,166.50 C168.68,167.73 168.92,169.67 169.30,172.00 C169.68,174.33 170.18,177.58 170.60,180.50 C171.02,183.42 171.40,186.75 171.80,189.50 C172.20,192.25 172.55,194.78 173.00,197.00 C173.45,199.22 173.77,201.43 174.50,202.80 C175.23,204.17 175.65,204.67 177.40,205.20 C179.15,205.73 183.73,205.87 185.00,206.00 L185.00,207.00 L152.00,207.00 Z" fill="#2d4a7e"/>
<path d="M152.00,201.60 C152.38,201.12 153.43,200.38 154.30,198.70 C155.17,197.02 156.35,193.90 157.20,191.50 C158.05,189.10 158.68,186.70 159.40,184.30 C160.12,181.90 160.97,179.50 161.50,177.10 C162.03,174.70 162.23,171.58 162.60,169.90 C162.97,168.22 163.28,168.45 163.70,167.00 C164.12,165.55 164.65,162.47 165.10,161.20 C165.55,159.93 165.97,159.03 166.40,159.40 C166.83,159.77 167.32,161.90 167.70,163.40 C168.08,164.90 168.28,166.37 168.70,168.40 C169.12,170.43 169.72,172.95 170.20,175.60 C170.68,178.25 171.12,181.53 171.60,184.30 C172.08,187.07 172.55,189.57 173.10,192.20 C173.65,194.83 174.30,198.18 174.90,200.10 C175.50,202.02 175.80,202.80 176.70,203.70 C177.60,204.60 178.08,205.12 180.30,205.50 C182.52,205.88 182.43,205.90 190.00,206.00 C197.57,206.10 219.75,206.08 225.70,206.10" fill="none" stroke="#9a2448" stroke-width="1.3"/>
<rect x="152.00" y="152.80" width="73.70" height="54.20" fill="none" stroke="#333" stroke-width="1.3" />
<path d="M151.25,207.00 L152.75,207.00 L152.00,210.40 Z" fill="#000" stroke="#000" stroke-width="0.3"/>
<path d="M156.80,207.00 L158.30,207.00 L157.55,209.80 Z" fill="#000" stroke="#000" stroke-width="0.3"/>
<path d="M160.04,207.00 L161.54,207.00 L160.79,209.80 Z" fill="#000" stroke="#000" stroke-width="0.3"/>
<path d="M162.34,207.00 L163.84,207.00 L163.09,209.80 Z" fill="#000" stroke="#000" stroke-width="0.3"/>
<path d="M164.13,207.00 L165.63,207.00 L164.88,209.80 Z" fill="#000" stroke="#000" stroke-width="0.3"/>
<path d="M165.59,207.00 L167.09,207.00 L166.34,209.80 Z" fill="#000" stroke="#000" stroke-width="0.3"/>
<path d="M166.82,207.00 L168.32,207.00 L167.57,209.80 Z" fill="#000" stroke="#000" stroke-width="0.3"/>
<path d="M167.89,207.00 L169.39,207.00 L168.64,209.80 Z" fill="#000" stroke="#000" stroke-width="0.3"/>
<path d="M168.83,207.00 L170.33,207.00 L169.58,209.80 Z" fill="#000" stroke="#000" stroke-width="0.3"/>
<path d="M169.68,207.00 L171.18,207.00 L170.43,210.40 Z" fill="#000" stroke="#000" stroke-width="0.3"/>
<path d="M175.22,207.00 L176.72,207.00 L175.97,209.80 Z" fill="#000" stroke="#000" stroke-width="0.3"/>
<path d="M178.47,207.00 L179.97,207.00 L179.22,209.80 Z" fill="#000" stroke="#000" stroke-width="0.3"/>
<path d="M180.77,207.00 L182.27,207.00 L181.52,209.80 Z" fill="#000" stroke="#000" stroke-width="0.3"/>
<path d="M182.55,207.00 L184.05,207.00 L183.30,209.80 Z" fill="#000" stroke="#000" stroke-width="0.3"/>
<path d="M184.01,207.00 L185.51,207.00 L184.76,209.80 Z" fill="#000" stroke="#000" stroke-width="0.3"/>
<path d="M185.25,207.00 L186.75,207.00 L186.00,209.80 Z" fill="#000" stroke="#000" stroke-width="0.3"/>
<path d="M186.31,207.00 L187.81,207.00 L187.06,209.80 Z" fill="#000" stroke="#000" stroke-width="0.3"/>
<path d="M187.26,207.00 L188.76,207.00 L188.01,209.80 Z" fill="#000" stroke="#000" stroke-width="0.3"/>
<path d="M188.10,207.00 L189.60,207.00 L188.85,210.40 Z" fill="#000" stroke="#000" stroke-width="0.3"/>
<path d="M193.65,207.00 L195.15,207.00 L194.40,209.80 Z" fill="#000" stroke="#000" stroke-width="0.3"/>
<path d="M196.89,207.00 L198.39,207.00 L197.64,209.80 Z" fill="#000" stroke="#000" stroke-width="0.3"/>
<path d="M199.19,207.00 L200.69,207.00 L199.94,209.80 Z" fill="#000" stroke="#000" stroke-width="0.3"/>
<path d="M200.98,207.00 L202.48,207.00 L201.73,209.80 Z" fill="#000" stroke="#000" stroke-width="0.3"/>
<path d="M202.44,207.00 L203.94,207.00 L203.19,209.80 Z" fill="#000" stroke="#000" stroke-width="0.3"/>
<path d="M203.67,207.00 L205.17,207.00 L204.42,209.80 Z" fill="#000" stroke="#000" stroke-width="0.3"/>
<path d="M204.74,207.00 L206.24,207.00 L205.49,209.80 Z" fill="#000" stroke="#000" stroke-width="0.3"/>
<path d="M205.68,207.00 L207.18,207.00 L206.43,209.80 Z" fill="#000" stroke="#000" stroke-width="0.3"/>
<path d="M206.52,207.00 L208.02,207.00 L207.27,210.40 Z" fill="#000" stroke="#000" stroke-width="0.3"/>
<path d="M212.07,207.00 L213.57,207.00 L212.82,209.80 Z" fill="#000" stroke="#000" stroke-width="0.3"/>
<path d="M215.32,207.00 L216.82,207.00 L216.07,209.80 Z" fill="#000" stroke="#000" stroke-width="0.3"/>
<path d="M217.62,207.00 L219.12,207.00 L218.37,209.80 Z" fill="#000" stroke="#000" stroke-width="0.3"/>
<path d="M219.40,207.00 L220.90,207.00 L220.15,209.80 Z" fill="#000" stroke="#000" stroke-width="0.3"/>
<path d="M220.86,207.00 L222.36,207.00 L221.61,209.80 Z" fill="#000" stroke="#000" stroke-width="0.3"/>
<path d="M222.10,207.00 L223.60,207.00 L222.85,209.80 Z" fill="#000" stroke="#000" stroke-width="0.3"/>
<path d="M223.16,207.00 L224.66,207.00 L223.91,209.80 Z" fill="#000" stroke="#000" stroke-width="0.3"/>
<path d="M224.11,207.00 L225.61,207.00 L224.86,209.80 Z" fill="#000" stroke="#000" stroke-width="0.3"/>
<line x1="95.60" y1="68.70" x2="142.90" y2="68.70" stroke="#111" stroke-width="1.3" />
<line x1="95.60" y1="67.30" x2="95.60" y2="70.10" stroke="#111" stroke-width="1.3" />
<line x1="178.00" y1="68.40" x2="225.70" y2="68.40" stroke="#111" stroke-width="1.3" />
<line x1="178.00" y1="67.00" x2="178.00" y2="69.80" stroke="#111" stroke-width="1.3" />
<line x1="95.70" y1="127.50" x2="142.90" y2="127.50" stroke="#111" stroke-width="1.3" />
<line x1="95.70" y1="126.10" x2="95.70" y2="128.90" stroke="#111" stroke-width="1.3" />
<line x1="178.00" y1="127.40" x2="225.70" y2="127.40" stroke="#111" stroke-width="1.3" />
<line x1="178.00" y1="126.00" x2="178.00" y2="128.80" stroke="#111" stroke-width="1.3" />
<line x1="95.70" y1="186.60" x2="142.90" y2="186.60" stroke="#111" stroke-width="1.3" />
<line x1="95.70" y1="185.20" x2="95.70" y2="188.00" stroke="#111" stroke-width="1.3" />
<line x1="178.00" y1="186.70" x2="225.70" y2="186.70" stroke="#111" stroke-width="1.3" />
<line x1="178.00" y1="185.30" x2="178.00" y2="188.10" stroke="#111" stroke-width="1.3" />
<text transform="translate(110.48,52.00) scale(1.104,1)" font-size="8.16" fill="#2a2a2a" stroke="#2a2a2a" stroke-width="0.199">98%</text>
<text transform="translate(97.65,62.10) scale(0.996,1)" font-size="8.31" fill="#2a2a2a" stroke="#2a2a2a" stroke-width="0.221">ΔMFI: 3274</text>
<text transform="translate(188.37,51.90) scale(1.130,1)" font-size="8.16" fill="#2a2a2a" stroke="#2a2a2a" stroke-width="0.195">99.5%</text>
<text transform="translate(177.84,62.90) scale(1.047,1)" font-size="8.31" fill="#2a2a2a" stroke="#2a2a2a" stroke-width="0.210">Δ MFI: 6542</text>
<text transform="translate(109.45,122.00) scale(0.996,1)" font-size="8.88" fill="#2a2a2a" stroke="#2a2a2a" stroke-width="0.221">0.5%</text>
<text transform="translate(191.73,122.10) scale(0.991,1)" font-size="8.94" fill="#2a2a2a" stroke="#2a2a2a" stroke-width="0.222">1.1%</text>
<text transform="translate(109.36,181.20) scale(1.007,1)" font-size="8.74" fill="#2a2a2a" stroke="#2a2a2a" stroke-width="0.218">2.7%</text>
<text transform="translate(191.45,181.10) scale(1.081,1)" font-size="8.31" fill="#2a2a2a" stroke="#2a2a2a" stroke-width="0.203">2.8%</text>
<line x1="67.30" y1="230.20" x2="67.30" y2="332.00" stroke="#000" stroke-width="1.7" />
<line x1="63.90" y1="328.60" x2="228.00" y2="328.60" stroke="#000" stroke-width="1.7" />
<line x1="63.90" y1="328.60" x2="67.30" y2="328.60" stroke="#000" stroke-width="1.3" />
<text transform="translate(54.95,331.45) scale(1.102,1)" font-size="8.16" fill="#2a2a2a" stroke="#2a2a2a" stroke-width="0.109">0</text>
<line x1="63.90" y1="309.50" x2="67.30" y2="309.50" stroke="#000" stroke-width="1.3" />
<text transform="translate(38.11,312.35) scale(1.205,1)" font-size="8.16" fill="#2a2a2a" stroke="#2a2a2a" stroke-width="0.100">2000</text>
<line x1="63.90" y1="290.40" x2="67.30" y2="290.40" stroke="#000" stroke-width="1.3" />
<text transform="translate(38.38,293.25) scale(1.190,1)" font-size="8.16" fill="#2a2a2a" stroke="#2a2a2a" stroke-width="0.101">4000</text>
<line x1="63.90" y1="271.30" x2="67.30" y2="271.30" stroke="#000" stroke-width="1.3" />
<text transform="translate(38.10,274.15) scale(1.205,1)" font-size="8.16" fill="#2a2a2a" stroke="#2a2a2a" stroke-width="0.100">6000</text>
<line x1="63.90" y1="252.20" x2="67.30" y2="252.20" stroke="#000" stroke-width="1.3" />
<text transform="translate(38.17,255.05) scale(1.201,1)" font-size="8.16" fill="#2a2a2a" stroke="#2a2a2a" stroke-width="0.100">8000</text>
<line x1="63.90" y1="233.10" x2="67.30" y2="233.10" stroke="#000" stroke-width="1.3" />
<text transform="translate(33.89,235.95) scale(1.149,1)" font-size="8.16" fill="#2a2a2a" stroke="#2a2a2a" stroke-width="0.104">10000</text>
<line x1="119.70" y1="328.60" x2="119.70" y2="331.80" stroke="#000" stroke-width="1.3" />
<line x1="171.90" y1="328.60" x2="171.90" y2="331.80" stroke="#000" stroke-width="1.3" />
<line x1="224.50" y1="328.60" x2="224.50" y2="331.80" stroke="#000" stroke-width="1.3" />
<line x1="93.50" y1="300.50" x2="93.50" y2="294.30" stroke="#151515" stroke-width="1.5" />
<line x1="90.20" y1="294.30" x2="96.80" y2="294.30" stroke="#151515" stroke-width="1.6" />
<rect x="83.20" y="300.50" width="20.60" height="28.10" fill="#a5002a" stroke="none" stroke-width="1" />
<line x1="146.25" y1="277.50" x2="146.25" y2="263.30" stroke="#151515" stroke-width="1.5" />
<line x1="142.95" y1="263.30" x2="149.55" y2="263.30" stroke="#151515" stroke-width="1.6" />
<rect x="135.75" y="277.50" width="21.00" height="51.10" fill="#a5002a" stroke="none" stroke-width="1" />
<line x1="198.38" y1="256.75" x2="198.38" y2="248.30" stroke="#151515" stroke-width="1.5" />
<line x1="195.07" y1="248.30" x2="201.68" y2="248.30" stroke="#151515" stroke-width="1.6" />
<rect x="188.00" y="256.75" width="20.75" height="71.85" fill="#a5002a" stroke="none" stroke-width="1" />
<text transform="translate(83.67,343.80) scale(0.979,1)" font-size="9.25" fill="#2a2a2a" stroke="#2a2a2a" stroke-width="0.225">fresh</text>
<text transform="translate(137.79,343.70) scale(1.181,1)" font-size="8.56" fill="#2a2a2a" stroke="#2a2a2a" stroke-width="0.186">24h</text>
<text transform="translate(190.68,343.70) scale(1.117,1)" font-size="8.56" fill="#2a2a2a" stroke="#2a2a2a" stroke-width="0.197">40h</text>
<text transform="translate(26.80,300.31) rotate(-90) scale(0.810,1)" font-size="9.94" fill="#2a2a2a" stroke="#2a2a2a" stroke-width="0.352">CD46 (MFI)</text>
<rect x="330.90" y="29.70" width="70.40" height="69.20" fill="none" stroke="#858585" stroke-width="1.25" />
<line x1="357.20" y1="29.70" x2="357.20" y2="98.90" stroke="#707070" stroke-width="1.2" />
<line x1="330.90" y1="72.30" x2="401.30" y2="72.30" stroke="#707070" stroke-width="1.2" />
<line x1="327.70" y1="98.90" x2="330.90" y2="98.90" stroke="#111" stroke-width="1.0" />
<line x1="328.70" y1="93.69" x2="330.90" y2="93.69" stroke="#111" stroke-width="1.0" />
<line x1="328.70" y1="90.65" x2="330.90" y2="90.65" stroke="#111" stroke-width="1.0" />
<line x1="328.70" y1="88.48" x2="330.90" y2="88.48" stroke="#111" stroke-width="1.0" />
<line x1="328.70" y1="86.81" x2="330.90" y2="86.81" stroke="#111" stroke-width="1.0" />
<line x1="328.70" y1="85.44" x2="330.90" y2="85.44" stroke="#111" stroke-width="1.0" />
<line x1="328.70" y1="84.28" x2="330.90" y2="84.28" stroke="#111" stroke-width="1.0" />
<line x1="328.70" y1="83.28" x2="330.90" y2="83.28" stroke="#111" stroke-width="1.0" />
<line x1="328.70" y1="82.39" x2="330.90" y2="82.39" stroke="#111" stroke-width="1.0" />
<line x1="327.70" y1="81.60" x2="330.90" y2="81.60" stroke="#111" stroke-width="1.0" />
<line x1="328.70" y1="76.39" x2="330.90" y2="76.39" stroke="#111" stroke-width="1.0" />
<line x1="328.70" y1="73.35" x2="330.90" y2="73.35" stroke="#111" stroke-width="1.0" />
<line x1="328.70" y1="71.18" x2="330.90" y2="71.18" stroke="#111" stroke-width="1.0" />
<line x1="328.70" y1="69.51" x2="330.90" y2="69.51" stroke="#111" stroke-width="1.0" />
<line x1="328.70" y1="68.14" x2="330.90" y2="68.14" stroke="#111" stroke-width="1.0" />
<line x1="328.70" y1="66.98" x2="330.90" y2="66.98" stroke="#111" stroke-width="1.0" />
<line x1="328.70" y1="65.98" x2="330.90" y2="65.98" stroke="#111" stroke-width="1.0" />
<line x1="328.70" y1="65.09" x2="330.90" y2="65.09" stroke="#111" stroke-width="1.0" />
<line x1="327.70" y1="64.30" x2="330.90" y2="64.30" stroke="#111" stroke-width="1.0" />
<line x1="328.70" y1="59.09" x2="330.90" y2="59.09" stroke="#111" stroke-width="1.0" />
<line x1="328.70" y1="56.05" x2="330.90" y2="56.05" stroke="#111" stroke-width="1.0" />
<line x1="328.70" y1="53.88" x2="330.90" y2="53.88" stroke="#111" stroke-width="1.0" />
<line x1="328.70" y1="52.21" x2="330.90" y2="52.21" stroke="#111" stroke-width="1.0" />
<line x1="328.70" y1="50.84" x2="330.90" y2="50.84" stroke="#111" stroke-width="1.0" />
<line x1="328.70" y1="49.68" x2="330.90" y2="49.68" stroke="#111" stroke-width="1.0" />
<line x1="328.70" y1="48.68" x2="330.90" y2="48.68" stroke="#111" stroke-width="1.0" />
<line x1="328.70" y1="47.79" x2="330.90" y2="47.79" stroke="#111" stroke-width="1.0" />
<line x1="327.70" y1="47.00" x2="330.90" y2="47.00" stroke="#111" stroke-width="1.0" />
<line x1="328.70" y1="41.79" x2="330.90" y2="41.79" stroke="#111" stroke-width="1.0" />
<line x1="328.70" y1="38.75" x2="330.90" y2="38.75" stroke="#111" stroke-width="1.0" />
<line x1="328.70" y1="36.58" x2="330.90" y2="36.58" stroke="#111" stroke-width="1.0" />
<line x1="328.70" y1="34.91" x2="330.90" y2="34.91" stroke="#111" stroke-width="1.0" />
<line x1="328.70" y1="33.54" x2="330.90" y2="33.54" stroke="#111" stroke-width="1.0" />
<line x1="328.70" y1="32.38" x2="330.90" y2="32.38" stroke="#111" stroke-width="1.0" />
<line x1="328.70" y1="31.38" x2="330.90" y2="31.38" stroke="#111" stroke-width="1.0" />
<line x1="328.70" y1="30.49" x2="330.90" y2="30.49" stroke="#111" stroke-width="1.0" />
<line x1="330.90" y1="98.90" x2="330.90" y2="102.10" stroke="#111" stroke-width="1.0" />
<line x1="336.20" y1="98.90" x2="336.20" y2="101.10" stroke="#111" stroke-width="1.0" />
<line x1="339.30" y1="98.90" x2="339.30" y2="101.10" stroke="#111" stroke-width="1.0" />
<line x1="341.50" y1="98.90" x2="341.50" y2="101.10" stroke="#111" stroke-width="1.0" />
<line x1="343.20" y1="98.90" x2="343.20" y2="101.10" stroke="#111" stroke-width="1.0" />
<line x1="344.60" y1="98.90" x2="344.60" y2="101.10" stroke="#111" stroke-width="1.0" />
<line x1="345.77" y1="98.90" x2="345.77" y2="101.10" stroke="#111" stroke-width="1.0" />
<line x1="346.79" y1="98.90" x2="346.79" y2="101.10" stroke="#111" stroke-width="1.0" />
<line x1="347.69" y1="98.90" x2="347.69" y2="101.10" stroke="#111" stroke-width="1.0" />
<line x1="348.50" y1="98.90" x2="348.50" y2="102.10" stroke="#111" stroke-width="1.0" />
<line x1="353.80" y1="98.90" x2="353.80" y2="101.10" stroke="#111" stroke-width="1.0" />
<line x1="356.90" y1="98.90" x2="356.90" y2="101.10" stroke="#111" stroke-width="1.0" />
<line x1="359.10" y1="98.90" x2="359.10" y2="101.10" stroke="#111" stroke-width="1.0" />
<line x1="360.80" y1="98.90" x2="360.80" y2="101.10" stroke="#111" stroke-width="1.0" />
<line x1="362.20" y1="98.90" x2="362.20" y2="101.10" stroke="#111" stroke-width="1.0" />
<line x1="363.37" y1="98.90" x2="363.37" y2="101.10" stroke="#111" stroke-width="1.0" />
<line x1="364.39" y1="98.90" x2="364.39" y2="101.10" stroke="#111" stroke-width="1.0" />
<line x1="365.29" y1="98.90" x2="365.29" y2="101.10" stroke="#111" stroke-width="1.0" />
<line x1="366.10" y1="98.90" x2="366.10" y2="102.10" stroke="#111" stroke-width="1.0" />
<line x1="371.40" y1="98.90" x2="371.40" y2="101.10" stroke="#111" stroke-width="1.0" />
<line x1="374.50" y1="98.90" x2="374.50" y2="101.10" stroke="#111" stroke-width="1.0" />
<line x1="376.70" y1="98.90" x2="376.70" y2="101.10" stroke="#111" stroke-width="1.0" />
<line x1="378.40" y1="98.90" x2="378.40" y2="101.10" stroke="#111" stroke-width="1.0" />
<line x1="379.80" y1="98.90" x2="379.80" y2="101.10" stroke="#111" stroke-width="1.0" />
<line x1="380.97" y1="98.90" x2="380.97" y2="101.10" stroke="#111" stroke-width="1.0" />
<line x1="381.99" y1="98.90" x2="381.99" y2="101.10" stroke="#111" stroke-width="1.0" />
<line x1="382.89" y1="98.90" x2="382.89" y2="101.10" stroke="#111" stroke-width="1.0" />
<line x1="383.70" y1="98.90" x2="383.70" y2="102.10" stroke="#111" stroke-width="1.0" />
<line x1="389.00" y1="98.90" x2="389.00" y2="101.10" stroke="#111" stroke-width="1.0" />
<line x1="392.10" y1="98.90" x2="392.10" y2="101.10" stroke="#111" stroke-width="1.0" />
<line x1="394.30" y1="98.90" x2="394.30" y2="101.10" stroke="#111" stroke-width="1.0" />
<line x1="396.00" y1="98.90" x2="396.00" y2="101.10" stroke="#111" stroke-width="1.0" />
<line x1="397.40" y1="98.90" x2="397.40" y2="101.10" stroke="#111" stroke-width="1.0" />
<line x1="398.57" y1="98.90" x2="398.57" y2="101.10" stroke="#111" stroke-width="1.0" />
<line x1="399.59" y1="98.90" x2="399.59" y2="101.10" stroke="#111" stroke-width="1.0" />
<line x1="400.49" y1="98.90" x2="400.49" y2="101.10" stroke="#111" stroke-width="1.0" />
<rect x="411.70" y="30.30" width="68.80" height="68.20" fill="none" stroke="#858585" stroke-width="1.25" />
<line x1="437.10" y1="30.30" x2="437.10" y2="98.50" stroke="#707070" stroke-width="1.2" />
<line x1="411.70" y1="72.30" x2="480.50" y2="72.30" stroke="#707070" stroke-width="1.2" />
<line x1="408.50" y1="98.50" x2="411.70" y2="98.50" stroke="#111" stroke-width="1.0" />
<line x1="409.50" y1="93.37" x2="411.70" y2="93.37" stroke="#111" stroke-width="1.0" />
<line x1="409.50" y1="90.37" x2="411.70" y2="90.37" stroke="#111" stroke-width="1.0" />
<line x1="409.50" y1="88.23" x2="411.70" y2="88.23" stroke="#111" stroke-width="1.0" />
<line x1="409.50" y1="86.58" x2="411.70" y2="86.58" stroke="#111" stroke-width="1.0" />
<line x1="409.50" y1="85.23" x2="411.70" y2="85.23" stroke="#111" stroke-width="1.0" />
<line x1="409.50" y1="84.09" x2="411.70" y2="84.09" stroke="#111" stroke-width="1.0" />
<line x1="409.50" y1="83.10" x2="411.70" y2="83.10" stroke="#111" stroke-width="1.0" />
<line x1="409.50" y1="82.23" x2="411.70" y2="82.23" stroke="#111" stroke-width="1.0" />
<line x1="408.50" y1="81.45" x2="411.70" y2="81.45" stroke="#111" stroke-width="1.0" />
<line x1="409.50" y1="76.32" x2="411.70" y2="76.32" stroke="#111" stroke-width="1.0" />
<line x1="409.50" y1="73.32" x2="411.70" y2="73.32" stroke="#111" stroke-width="1.0" />
<line x1="409.50" y1="71.18" x2="411.70" y2="71.18" stroke="#111" stroke-width="1.0" />
<line x1="409.50" y1="69.53" x2="411.70" y2="69.53" stroke="#111" stroke-width="1.0" />
<line x1="409.50" y1="68.18" x2="411.70" y2="68.18" stroke="#111" stroke-width="1.0" />
<line x1="409.50" y1="67.04" x2="411.70" y2="67.04" stroke="#111" stroke-width="1.0" />
<line x1="409.50" y1="66.05" x2="411.70" y2="66.05" stroke="#111" stroke-width="1.0" />
<line x1="409.50" y1="65.18" x2="411.70" y2="65.18" stroke="#111" stroke-width="1.0" />
<line x1="408.50" y1="64.40" x2="411.70" y2="64.40" stroke="#111" stroke-width="1.0" />
<line x1="409.50" y1="59.27" x2="411.70" y2="59.27" stroke="#111" stroke-width="1.0" />
<line x1="409.50" y1="56.27" x2="411.70" y2="56.27" stroke="#111" stroke-width="1.0" />
<line x1="409.50" y1="54.13" x2="411.70" y2="54.13" stroke="#111" stroke-width="1.0" />
<line x1="409.50" y1="52.48" x2="411.70" y2="52.48" stroke="#111" stroke-width="1.0" />
<line x1="409.50" y1="51.13" x2="411.70" y2="51.13" stroke="#111" stroke-width="1.0" />
<line x1="409.50" y1="49.99" x2="411.70" y2="49.99" stroke="#111" stroke-width="1.0" />
<line x1="409.50" y1="49.00" x2="411.70" y2="49.00" stroke="#111" stroke-width="1.0" />
<line x1="409.50" y1="48.13" x2="411.70" y2="48.13" stroke="#111" stroke-width="1.0" />
<line x1="408.50" y1="47.35" x2="411.70" y2="47.35" stroke="#111" stroke-width="1.0" />
<line x1="409.50" y1="42.22" x2="411.70" y2="42.22" stroke="#111" stroke-width="1.0" />
<line x1="409.50" y1="39.22" x2="411.70" y2="39.22" stroke="#111" stroke-width="1.0" />
<line x1="409.50" y1="37.08" x2="411.70" y2="37.08" stroke="#111" stroke-width="1.0" />
<line x1="409.50" y1="35.43" x2="411.70" y2="35.43" stroke="#111" stroke-width="1.0" />
<line x1="409.50" y1="34.08" x2="411.70" y2="34.08" stroke="#111" stroke-width="1.0" />
<line x1="409.50" y1="32.94" x2="411.70" y2="32.94" stroke="#111" stroke-width="1.0" />
<line x1="409.50" y1="31.95" x2="411.70" y2="31.95" stroke="#111" stroke-width="1.0" />
<line x1="409.50" y1="31.08" x2="411.70" y2="31.08" stroke="#111" stroke-width="1.0" />
<line x1="411.70" y1="98.50" x2="411.70" y2="101.70" stroke="#111" stroke-width="1.0" />
<line x1="416.88" y1="98.50" x2="416.88" y2="100.70" stroke="#111" stroke-width="1.0" />
<line x1="419.91" y1="98.50" x2="419.91" y2="100.70" stroke="#111" stroke-width="1.0" />
<line x1="422.06" y1="98.50" x2="422.06" y2="100.70" stroke="#111" stroke-width="1.0" />
<line x1="423.72" y1="98.50" x2="423.72" y2="100.70" stroke="#111" stroke-width="1.0" />
<line x1="425.08" y1="98.50" x2="425.08" y2="100.70" stroke="#111" stroke-width="1.0" />
<line x1="426.24" y1="98.50" x2="426.24" y2="100.70" stroke="#111" stroke-width="1.0" />
<line x1="427.23" y1="98.50" x2="427.23" y2="100.70" stroke="#111" stroke-width="1.0" />
<line x1="428.11" y1="98.50" x2="428.11" y2="100.70" stroke="#111" stroke-width="1.0" />
<line x1="428.90" y1="98.50" x2="428.90" y2="101.70" stroke="#111" stroke-width="1.0" />
<line x1="434.08" y1="98.50" x2="434.08" y2="100.70" stroke="#111" stroke-width="1.0" />
<line x1="437.11" y1="98.50" x2="437.11" y2="100.70" stroke="#111" stroke-width="1.0" />
<line x1="439.26" y1="98.50" x2="439.26" y2="100.70" stroke="#111" stroke-width="1.0" />
<line x1="440.92" y1="98.50" x2="440.92" y2="100.70" stroke="#111" stroke-width="1.0" />
<line x1="442.28" y1="98.50" x2="442.28" y2="100.70" stroke="#111" stroke-width="1.0" />
<line x1="443.44" y1="98.50" x2="443.44" y2="100.70" stroke="#111" stroke-width="1.0" />
<line x1="444.43" y1="98.50" x2="444.43" y2="100.70" stroke="#111" stroke-width="1.0" />
<line x1="445.31" y1="98.50" x2="445.31" y2="100.70" stroke="#111" stroke-width="1.0" />
<line x1="446.10" y1="98.50" x2="446.10" y2="101.70" stroke="#111" stroke-width="1.0" />
<line x1="451.28" y1="98.50" x2="451.28" y2="100.70" stroke="#111" stroke-width="1.0" />
<line x1="454.31" y1="98.50" x2="454.31" y2="100.70" stroke="#111" stroke-width="1.0" />
<line x1="456.46" y1="98.50" x2="456.46" y2="100.70" stroke="#111" stroke-width="1.0" />
<line x1="458.12" y1="98.50" x2="458.12" y2="100.70" stroke="#111" stroke-width="1.0" />
<line x1="459.48" y1="98.50" x2="459.48" y2="100.70" stroke="#111" stroke-width="1.0" />
<line x1="460.64" y1="98.50" x2="460.64" y2="100.70" stroke="#111" stroke-width="1.0" />
<line x1="461.63" y1="98.50" x2="461.63" y2="100.70" stroke="#111" stroke-width="1.0" />
<line x1="462.51" y1="98.50" x2="462.51" y2="100.70" stroke="#111" stroke-width="1.0" />
<line x1="463.30" y1="98.50" x2="463.30" y2="101.70" stroke="#111" stroke-width="1.0" />
<line x1="468.48" y1="98.50" x2="468.48" y2="100.70" stroke="#111" stroke-width="1.0" />
<line x1="471.51" y1="98.50" x2="471.51" y2="100.70" stroke="#111" stroke-width="1.0" />
<line x1="473.66" y1="98.50" x2="473.66" y2="100.70" stroke="#111" stroke-width="1.0" />
<line x1="475.32" y1="98.50" x2="475.32" y2="100.70" stroke="#111" stroke-width="1.0" />
<line x1="476.68" y1="98.50" x2="476.68" y2="100.70" stroke="#111" stroke-width="1.0" />
<line x1="477.84" y1="98.50" x2="477.84" y2="100.70" stroke="#111" stroke-width="1.0" />
<line x1="478.83" y1="98.50" x2="478.83" y2="100.70" stroke="#111" stroke-width="1.0" />
<line x1="479.71" y1="98.50" x2="479.71" y2="100.70" stroke="#111" stroke-width="1.0" />
<circle cx="348.6" cy="62.9" r="0.55" fill="#aaa"/>
<circle cx="341.9" cy="61.5" r="0.55" fill="#aaa"/>
<circle cx="346.3" cy="54.6" r="0.55" fill="#aaa"/>
<circle cx="347.7" cy="60.0" r="0.55" fill="#aaa"/>
<circle cx="355.3" cy="55.8" r="0.55" fill="#aaa"/>
<circle cx="351.8" cy="50.6" r="0.55" fill="#aaa"/>
<circle cx="345.6" cy="53.6" r="0.55" fill="#aaa"/>
<circle cx="339.3" cy="47.7" r="0.55" fill="#aaa"/>
<circle cx="337.4" cy="54.7" r="0.55" fill="#aaa"/>
<circle cx="346.9" cy="54.2" r="0.55" fill="#aaa"/>
<circle cx="348.4" cy="48.7" r="0.55" fill="#aaa"/>
<circle cx="347.5" cy="57.3" r="0.55" fill="#aaa"/>
<circle cx="352.9" cy="51.3" r="0.55" fill="#aaa"/>
<circle cx="345.4" cy="44.9" r="0.55" fill="#aaa"/>
<circle cx="344.7" cy="43.9" r="0.55" fill="#aaa"/>
<circle cx="338.8" cy="62.1" r="0.55" fill="#aaa"/>
<circle cx="333.7" cy="60.4" r="0.55" fill="#aaa"/>
<circle cx="350.1" cy="54.3" r="0.55" fill="#aaa"/>
<circle cx="351.0" cy="58.9" r="0.55" fill="#aaa"/>
<circle cx="354.8" cy="54.7" r="0.55" fill="#aaa"/>
<circle cx="344.2" cy="52.7" r="0.55" fill="#aaa"/>
<circle cx="341.6" cy="55.8" r="0.55" fill="#aaa"/>
<circle cx="342.9" cy="61.9" r="0.55" fill="#aaa"/>
<circle cx="335.8" cy="50.0" r="0.55" fill="#aaa"/>
<circle cx="341.8" cy="44.5" r="0.55" fill="#aaa"/>
<circle cx="346.2" cy="53.1" r="0.55" fill="#aaa"/>
<circle cx="355.0" cy="52.0" r="0.55" fill="#aaa"/>
<circle cx="347.0" cy="52.3" r="0.55" fill="#aaa"/>
<circle cx="352.2" cy="49.7" r="0.55" fill="#aaa"/>
<circle cx="347.5" cy="57.9" r="0.55" fill="#aaa"/>
<circle cx="344.9" cy="57.7" r="0.55" fill="#aaa"/>
<circle cx="345.0" cy="65.1" r="0.55" fill="#aaa"/>
<circle cx="349.4" cy="54.8" r="0.55" fill="#aaa"/>
<circle cx="346.5" cy="54.9" r="0.55" fill="#aaa"/>
<circle cx="346.9" cy="51.2" r="0.55" fill="#aaa"/>
<circle cx="347.0" cy="58.0" r="0.55" fill="#aaa"/>
<circle cx="346.7" cy="55.2" r="0.55" fill="#aaa"/>
<circle cx="350.2" cy="61.3" r="0.55" fill="#aaa"/>
<circle cx="345.1" cy="53.9" r="0.55" fill="#aaa"/>
<circle cx="341.6" cy="68.8" r="0.55" fill="#aaa"/>
<circle cx="353.0" cy="52.8" r="0.55" fill="#aaa"/>
<circle cx="340.4" cy="57.6" r="0.55" fill="#aaa"/>
<circle cx="342.6" cy="50.2" r="0.55" fill="#aaa"/>
<circle cx="339.6" cy="53.2" r="0.55" fill="#aaa"/>
<circle cx="355.2" cy="53.6" r="0.55" fill="#aaa"/>
<circle cx="338.6" cy="59.7" r="0.55" fill="#aaa"/>
<circle cx="348.4" cy="60.6" r="0.55" fill="#aaa"/>
<circle cx="355.8" cy="55.1" r="0.55" fill="#aaa"/>
<circle cx="347.1" cy="55.7" r="0.55" fill="#aaa"/>
<circle cx="340.6" cy="59.7" r="0.55" fill="#aaa"/>
<circle cx="346.5" cy="54.6" r="0.55" fill="#aaa"/>
<circle cx="367.3" cy="60.6" r="0.5" fill="#999"/>
<circle cx="369.6" cy="60.5" r="0.5" fill="#999"/>
<circle cx="374.1" cy="63.1" r="0.5" fill="#999"/>
<circle cx="372.0" cy="66.3" r="0.5" fill="#999"/>
<circle cx="367.6" cy="61.6" r="0.5" fill="#999"/>
<circle cx="368.6" cy="65.0" r="0.5" fill="#999"/>
<circle cx="366.5" cy="66.0" r="0.5" fill="#999"/>
<circle cx="370.2" cy="65.8" r="0.5" fill="#999"/>
<circle cx="372.2" cy="62.3" r="0.5" fill="#999"/>
<circle cx="363.1" cy="60.9" r="0.5" fill="#999"/>
<circle cx="370.4" cy="65.0" r="0.5" fill="#999"/>
<circle cx="373.5" cy="60.9" r="0.5" fill="#999"/>
<defs><linearGradient id="g1" x1="0" y1="0" x2="1" y2="0"><stop offset="0" stop-color="#f6f6f6"/><stop offset="0.6" stop-color="#eeeeee"/><stop offset="1" stop-color="#c4c4c4"/></linearGradient><linearGradient id="g2" x1="0" y1="0" x2="0" y2="1"><stop offset="0" stop-color="#b4b4b4"/><stop offset="0.45" stop-color="#d4d4d4"/><stop offset="1" stop-color="#f4f4f4"/></linearGradient><linearGradient id="g3" x1="0" y1="0" x2="1" y2="0"><stop offset="0" stop-color="#eaeaea"/><stop offset="0.5" stop-color="#d0d0d0"/><stop offset="1" stop-color="#a0a0a0"/></linearGradient><linearGradient id="g4" x1="0" y1="0" x2="1" y2="1"><stop offset="0" stop-color="#a4a4a4"/><stop offset="0.5" stop-color="#d0d0d0"/><stop offset="1" stop-color="#f2f2f2"/></linearGradient></defs>
<rect x="362.20" y="36.20" width="6.60" height="23.50" rx="0.8" fill="url(#g1)" stroke="#555" stroke-width="0.95"/>
<path d="M364.00,57.70 C363.40,44.20 364.70,38.70 365.50,38.70 C367.30,39.20 367.00,46.20 366.60,56.70" fill="none" stroke="#8a8a8a" stroke-width="0.6"/>
<rect x="369.80" y="36.20" width="8.00" height="23.50" rx="0.8" fill="url(#g2)" stroke="#555" stroke-width="0.95"/>
<path d="M371.60,57.70 C371.00,44.20 372.30,38.70 373.80,38.70 C376.30,39.20 376.00,46.20 375.60,56.70" fill="none" stroke="#8a8a8a" stroke-width="0.6"/>
<rect x="448.40" y="36.80" width="5.50" height="22.40" rx="0.8" fill="url(#g3)" stroke="#555" stroke-width="0.95"/>
<path d="M450.20,57.20 C449.60,44.80 450.90,39.30 451.15,39.30 C452.40,39.80 452.10,46.80 451.70,56.20" fill="none" stroke="#8a8a8a" stroke-width="0.6"/>
<rect x="455.50" y="36.80" width="6.30" height="22.40" rx="0.8" fill="url(#g4)" stroke="#555" stroke-width="0.95"/>
<path d="M457.30,57.20 C456.70,44.80 458.00,39.30 458.65,39.30 C460.30,39.80 460.00,46.80 459.60,56.20" fill="none" stroke="#8a8a8a" stroke-width="0.6"/>
<rect x="453.9" y="38" width="1.6" height="20" fill="#b0b0b0"/>
<path d="M323.6,107.8 L323.6,76" stroke="#000" stroke-width="2.1" fill="none"/>
<path d="M320.2,78.6 L323.6,69.6 L327.0,78.6 L323.6,76.8 Z" fill="#000"/>
<path d="M322.6,106.9 L355,106.9" stroke="#000" stroke-width="2.1" fill="none"/>
<path d="M353.2,103.4 L361.9,106.9 L353.2,110.4 L355.0,106.9 Z" fill="#000"/>
<text transform="translate(317.90,99.84) rotate(-90) scale(0.655,1)" font-size="10.17" fill="#2a2a2a" stroke="#2a2a2a" stroke-width="0.352">CD34</text>
<text transform="translate(330.62,118.00) scale(0.756,1)" font-size="9.88" fill="#2a2a2a" stroke="#2a2a2a" stroke-width="0.291">CD46</text>
<line x1="364.20" y1="65.30" x2="347.36" y2="190.55" stroke="#000" stroke-width="2.1" />
<path d="M346.60,196.20 L343.80,186.24 L347.46,189.80 L351.93,187.33 Z" fill="#000"/>
<line x1="376.50" y1="65.30" x2="382.12" y2="181.31" stroke="#000" stroke-width="2.1" />
<path d="M382.40,187.00 L377.84,177.71 L382.09,180.55 L386.04,177.31 Z" fill="#000"/>
<line x1="452.10" y1="64.60" x2="423.44" y2="153.77" stroke="#000" stroke-width="2.1" />
<path d="M421.70,159.20 L420.70,148.90 L423.68,153.05 L428.51,151.41 Z" fill="#000"/>
<line x1="458.30" y1="64.60" x2="457.84" y2="135.10" stroke="#000" stroke-width="2.1" />
<path d="M457.80,140.80 L453.76,131.27 L457.84,134.34 L461.96,131.33 Z" fill="#000"/>
<line x1="332.40" y1="136.30" x2="332.40" y2="257.20" stroke="#000" stroke-width="1.7" />
<line x1="329.00" y1="256.40" x2="475.90" y2="256.40" stroke="#000" stroke-width="1.7" />
<line x1="329.00" y1="256.40" x2="332.40" y2="256.40" stroke="#000" stroke-width="1.3" />
<text transform="translate(319.79,259.25) scale(1.281,1)" font-size="8.16" fill="#2a2a2a" stroke="#2a2a2a" stroke-width="0.094">0</text>
<line x1="329.00" y1="233.00" x2="332.40" y2="233.00" stroke="#000" stroke-width="1.3" />
<text transform="translate(314.29,235.85) scale(1.245,1)" font-size="8.16" fill="#2a2a2a" stroke="#2a2a2a" stroke-width="0.096">20</text>
<line x1="329.00" y1="209.60" x2="332.40" y2="209.60" stroke="#000" stroke-width="1.3" />
<text transform="translate(314.57,212.45) scale(1.213,1)" font-size="8.16" fill="#2a2a2a" stroke="#2a2a2a" stroke-width="0.099">40</text>
<line x1="329.00" y1="186.20" x2="332.40" y2="186.20" stroke="#000" stroke-width="1.3" />
<text transform="translate(314.28,189.05) scale(1.246,1)" font-size="8.16" fill="#2a2a2a" stroke="#2a2a2a" stroke-width="0.096">60</text>
<line x1="329.00" y1="162.80" x2="332.40" y2="162.80" stroke="#000" stroke-width="1.3" />
<text transform="translate(314.36,165.65) scale(1.237,1)" font-size="8.16" fill="#2a2a2a" stroke="#2a2a2a" stroke-width="0.097">80</text>
<line x1="329.00" y1="139.40" x2="332.40" y2="139.40" stroke="#000" stroke-width="1.3" />
<text transform="translate(309.46,142.25) scale(1.183,1)" font-size="8.16" fill="#2a2a2a" stroke="#2a2a2a" stroke-width="0.101">100</text>
<rect x="343.10" y="199.70" width="14.60" height="56.70" fill="#a5002a" stroke="none" stroke-width="1" />
<rect x="379.40" y="185.80" width="14.10" height="70.60" fill="#a5002a" stroke="none" stroke-width="1" />
<rect x="415.40" y="164.00" width="14.00" height="92.40" fill="#a5002a" stroke="none" stroke-width="1" />
<rect x="451.00" y="144.80" width="14.80" height="111.60" fill="#a5002a" stroke="none" stroke-width="1" />
<text transform="translate(301.70,221.78) rotate(-90) scale(0.766,1)" font-size="10.35" fill="#2a2a2a" stroke="#2a2a2a" stroke-width="0.352">% GFP+ cells</text>
<text transform="translate(354.40,265.80) rotate(-45) scale(1.0,1)" font-size="9.6" fill="#2a2a2a" stroke="#2a2a2a" stroke-width="0.22" text-anchor="end">CD46<tspan font-size="6" dx="0.9" dy="-4" stroke-width="0.05" fill="#444">low</tspan></text>
<text transform="translate(391.00,266.20) rotate(-45) scale(1.0,1)" font-size="9.6" fill="#2a2a2a" stroke="#2a2a2a" stroke-width="0.22" text-anchor="end">CD46<tspan font-size="6" dx="0.9" dy="-4" stroke-width="0.05" fill="#444">high</tspan></text>
<text transform="translate(426.60,265.30) rotate(-45) scale(1.0,1)" font-size="9.6" fill="#2a2a2a" stroke="#2a2a2a" stroke-width="0.22" text-anchor="end">CD46<tspan font-size="6" dx="0.9" dy="-4" stroke-width="0.05" fill="#444">low</tspan></text>
<text transform="translate(463.20,265.20) rotate(-45) scale(1.0,1)" font-size="9.6" fill="#2a2a2a" stroke="#2a2a2a" stroke-width="0.22" text-anchor="end">CD46<tspan font-size="6" dx="0.9" dy="-4" stroke-width="0.05" fill="#444">high</tspan></text>
<line x1="308.00" y1="297.00" x2="392.80" y2="297.00" stroke="#000" stroke-width="1.8" />
<line x1="396.90" y1="297.00" x2="491.20" y2="297.00" stroke="#000" stroke-width="1.8" />
<text transform="translate(324.84,309.90) scale(0.751,1)" font-size="10.07" fill="#2a2a2a" stroke="#2a2a2a" stroke-width="0.532">Quiescent cells</text>
<text transform="translate(416.35,310.10) scale(0.764,1)" font-size="10.21" fill="#2a2a2a" stroke="#2a2a2a" stroke-width="0.524">Stimulated cells</text>
<text transform="translate(116.17,373.50) scale(1.023,1)" font-size="11.18" font-weight="bold" fill="#111" stroke="#111" stroke-width="0.215">Stimulated</text>
<line x1="67.40" y1="379.60" x2="67.40" y2="509.00" stroke="#000" stroke-width="1.7" />
<line x1="63.80" y1="508.20" x2="224.00" y2="508.20" stroke="#000" stroke-width="1.7" />
<line x1="63.80" y1="508.20" x2="67.40" y2="508.20" stroke="#000" stroke-width="1.3" />
<text transform="translate(54.53,511.10) scale(1.133,1)" font-size="8.31" fill="#2a2a2a" stroke="#2a2a2a" stroke-width="0.106">0</text>
<line x1="63.80" y1="487.30" x2="67.40" y2="487.30" stroke="#000" stroke-width="1.3" />
<text transform="translate(49.85,490.20) scale(1.071,1)" font-size="8.31" fill="#2a2a2a" stroke="#2a2a2a" stroke-width="0.112">20</text>
<line x1="63.80" y1="466.40" x2="67.40" y2="466.40" stroke="#000" stroke-width="1.3" />
<text transform="translate(50.10,469.30) scale(1.043,1)" font-size="8.31" fill="#2a2a2a" stroke="#2a2a2a" stroke-width="0.115">40</text>
<line x1="63.80" y1="445.50" x2="67.40" y2="445.50" stroke="#000" stroke-width="1.3" />
<text transform="translate(49.85,448.40) scale(1.071,1)" font-size="8.31" fill="#2a2a2a" stroke="#2a2a2a" stroke-width="0.112">60</text>
<line x1="63.80" y1="424.60" x2="67.40" y2="424.60" stroke="#000" stroke-width="1.3" />
<text transform="translate(49.92,427.50) scale(1.064,1)" font-size="8.31" fill="#2a2a2a" stroke="#2a2a2a" stroke-width="0.113">80</text>
<line x1="63.80" y1="403.70" x2="67.40" y2="403.70" stroke="#000" stroke-width="1.3" />
<text transform="translate(44.71,406.60) scale(1.085,1)" font-size="8.31" fill="#2a2a2a" stroke="#2a2a2a" stroke-width="0.111">100</text>
<line x1="63.80" y1="382.80" x2="67.40" y2="382.80" stroke="#000" stroke-width="1.3" />
<text transform="translate(44.71,385.70) scale(1.085,1)" font-size="8.31" fill="#2a2a2a" stroke="#2a2a2a" stroke-width="0.111">120</text>
<rect x="76.25" y="403.70" width="10.65" height="104.50" fill="#a5002a" stroke="none" stroke-width="1" />
<rect x="86.90" y="403.70" width="10.60" height="104.50" fill="#2c4a7e" stroke="none" stroke-width="1" />
<line x1="120.80" y1="401.51" x2="120.80" y2="398.79" stroke="#151515" stroke-width="1.5" />
<line x1="117.50" y1="398.79" x2="124.10" y2="398.79" stroke="#151515" stroke-width="1.6" />
<rect x="115.10" y="401.51" width="11.40" height="106.69" fill="#a5002a" stroke="none" stroke-width="1" />
<rect x="126.50" y="389.80" width="10.40" height="118.40" fill="#2c4a7e" stroke="none" stroke-width="1" />
<rect x="127.3" y="389.20" width="8.8" height="1.3" rx="0.6" fill="#101c3c"/>
<line x1="160.15" y1="507.26" x2="160.15" y2="506.21" stroke="#151515" stroke-width="1.5" />
<line x1="156.85" y1="506.21" x2="163.45" y2="506.21" stroke="#151515" stroke-width="1.6" />
<rect x="155.00" y="507.26" width="10.30" height="0.94" fill="#4a0a1a" stroke="none" stroke-width="1" />
<line x1="170.88" y1="416.03" x2="170.88" y2="410.28" stroke="#151515" stroke-width="1.5" />
<line x1="167.57" y1="410.28" x2="174.18" y2="410.28" stroke="#151515" stroke-width="1.6" />
<rect x="165.50" y="416.03" width="10.75" height="92.17" fill="#2c4a7e" stroke="none" stroke-width="1" />
<rect x="193.75" y="404.43" width="10.45" height="103.77" fill="#a5002a" stroke="none" stroke-width="1" />
<line x1="209.60" y1="421.67" x2="209.60" y2="411.43" stroke="#151515" stroke-width="1.5" />
<line x1="206.30" y1="411.43" x2="212.90" y2="411.43" stroke="#151515" stroke-width="1.6" />
<rect x="204.20" y="421.67" width="10.80" height="86.53" fill="#2c4a7e" stroke="none" stroke-width="1" />
<rect x="77.05" y="403.10" width="9.05" height="1.3" rx="0.6" fill="#5a0a20"/>
<rect x="87.70" y="403.10" width="9.00" height="1.3" rx="0.6" fill="#101c3c"/>
<rect x="227.20" y="434.20" width="7.00" height="6.90" fill="#a5002a" stroke="none" stroke-width="1" />
<rect x="227.20" y="447.70" width="7.00" height="6.70" fill="#2c4a7e" stroke="none" stroke-width="1" />
<text transform="translate(237.02,440.40) scale(1.039,1)" font-size="8.00" fill="#2a2a2a" stroke="#2a2a2a" stroke-width="0.212">H/F-LVs</text>
<text transform="translate(237.67,453.60) scale(0.973,1)" font-size="8.02" fill="#2a2a2a" stroke="#2a2a2a" stroke-width="0.226">VSV-G-LVs</text>
<text transform="translate(37.00,481.84) rotate(-90) scale(0.763,1)" font-size="10.21" fill="#2a2a2a" stroke="#2a2a2a" stroke-width="0.352">Relative %GFP+ cells</text>
<text transform="translate(92.00,514.20) rotate(-45)" font-size="9.2" fill="#2a2a2a" stroke="#2a2a2a" stroke-width="0.22" text-anchor="end">no Ab</text>
<text transform="translate(131.00,516.80) rotate(-45)" font-size="9.4" fill="#2a2a2a" stroke="#2a2a2a" stroke-width="0.22" text-anchor="end">α-SLAM</text>
<text transform="translate(169.80,516.80) rotate(-45)" font-size="9.5" fill="#2a2a2a" stroke="#2a2a2a" stroke-width="0.22" text-anchor="end">α-CD46</text>
<text transform="translate(209.60,516.00) rotate(-45)" font-size="9.1" fill="#2a2a2a" stroke="#2a2a2a" stroke-width="0.22" text-anchor="end">α-Nectin-4</text>
<text transform="translate(383.54,373.00) scale(1.076,1)" font-size="10.63" font-weight="bold" fill="#111" stroke="#111" stroke-width="0.204">Resting</text>
<line x1="332.40" y1="379.60" x2="332.40" y2="509.00" stroke="#000" stroke-width="1.7" />
<line x1="329.20" y1="508.20" x2="475.50" y2="508.20" stroke="#000" stroke-width="1.7" />
<line x1="329.20" y1="508.20" x2="332.40" y2="508.20" stroke="#000" stroke-width="1.3" />
<text transform="translate(320.03,511.10) scale(1.133,1)" font-size="8.31" fill="#2a2a2a" stroke="#2a2a2a" stroke-width="0.106">0</text>
<line x1="329.20" y1="487.30" x2="332.40" y2="487.30" stroke="#000" stroke-width="1.3" />
<text transform="translate(315.04,490.20) scale(1.106,1)" font-size="8.31" fill="#2a2a2a" stroke="#2a2a2a" stroke-width="0.108">20</text>
<line x1="329.20" y1="466.40" x2="332.40" y2="466.40" stroke="#000" stroke-width="1.3" />
<text transform="translate(315.29,469.30) scale(1.077,1)" font-size="8.31" fill="#2a2a2a" stroke="#2a2a2a" stroke-width="0.111">40</text>
<line x1="329.20" y1="445.50" x2="332.40" y2="445.50" stroke="#000" stroke-width="1.3" />
<text transform="translate(315.03,448.40) scale(1.107,1)" font-size="8.31" fill="#2a2a2a" stroke="#2a2a2a" stroke-width="0.108">60</text>
<line x1="329.20" y1="424.60" x2="332.40" y2="424.60" stroke="#000" stroke-width="1.3" />
<text transform="translate(315.10,427.50) scale(1.099,1)" font-size="8.31" fill="#2a2a2a" stroke="#2a2a2a" stroke-width="0.109">80</text>
<line x1="329.20" y1="403.70" x2="332.40" y2="403.70" stroke="#000" stroke-width="1.3" />
<text transform="translate(309.48,406.60) scale(1.139,1)" font-size="8.31" fill="#2a2a2a" stroke="#2a2a2a" stroke-width="0.105">100</text>
<line x1="329.20" y1="382.80" x2="332.40" y2="382.80" stroke="#000" stroke-width="1.3" />
<text transform="translate(309.48,385.70) scale(1.139,1)" font-size="8.31" fill="#2a2a2a" stroke="#2a2a2a" stroke-width="0.105">120</text>
<rect x="344.00" y="403.70" width="14.00" height="104.50" fill="#a5002a" stroke="none" stroke-width="1" />
<line x1="386.55" y1="423.14" x2="386.55" y2="417.29" stroke="#151515" stroke-width="1.5" />
<line x1="383.25" y1="417.29" x2="389.85" y2="417.29" stroke="#151515" stroke-width="1.6" />
<rect x="379.50" y="423.14" width="14.10" height="85.06" fill="#a5002a" stroke="none" stroke-width="1" />
<line x1="422.40" y1="507.26" x2="422.40" y2="505.48" stroke="#151515" stroke-width="1.5" />
<line x1="419.10" y1="505.48" x2="425.70" y2="505.48" stroke="#151515" stroke-width="1.6" />
<rect x="415.60" y="507.26" width="13.60" height="0.94" fill="#4a0a1a" stroke="none" stroke-width="1" />
<line x1="458.55" y1="436.83" x2="458.55" y2="428.26" stroke="#151515" stroke-width="1.5" />
<line x1="455.25" y1="428.26" x2="461.85" y2="428.26" stroke="#151515" stroke-width="1.6" />
<rect x="451.30" y="436.83" width="14.50" height="71.37" fill="#a5002a" stroke="none" stroke-width="1" />
<text transform="translate(302.60,483.04) rotate(-90) scale(0.722,1)" font-size="10.76" fill="#2a2a2a" stroke="#2a2a2a" stroke-width="0.352">Relative % GFP+ cells</text>
<text transform="translate(355.00,515.10) rotate(-45)" font-size="9.0" fill="#2a2a2a" stroke="#2a2a2a" stroke-width="0.22" text-anchor="end">no Ab</text>
<text transform="translate(391.50,517.30) rotate(-45)" font-size="9.3" fill="#2a2a2a" stroke="#2a2a2a" stroke-width="0.22" text-anchor="end">α-SLAM</text>
<text transform="translate(427.40,516.40) rotate(-45)" font-size="9.6" fill="#2a2a2a" stroke="#2a2a2a" stroke-width="0.22" text-anchor="end">α-CD46</text>
<text transform="translate(464.00,515.20) rotate(-45)" font-size="9.3" fill="#2a2a2a" stroke="#2a2a2a" stroke-width="0.22" text-anchor="end">α-Nectin-4</text>
<defs><pattern id="hatch" patternUnits="userSpaceOnUse" width="3.2" height="3.2" patternTransform="rotate(45)"><rect width="3.2" height="3.2" fill="#f3dcd6"/><rect width="1.3" height="3.2" fill="#e2b6ad"/></pattern></defs>
<rect x="57.50" y="581.60" width="288.70" height="17.30" fill="#d8a69a" stroke="none" stroke-width="1" />
<rect x="64.40" y="581.60" width="36.90" height="17.30" fill="url(#hatch)" stroke="none" stroke-width="1" />
<text transform="translate(76.60,593.25) scale(1.019,1)" font-size="8.87" fill="#222" stroke="#222" stroke-width="0.079">TM</text>
<text transform="translate(46.92,593.10) scale(1.192,1)" font-size="9.01" fill="#2a2a2a" stroke="#2a2a2a" stroke-width="0.084">H</text>
<rect x="253.30" y="581.50" width="35.00" height="17.50" fill="#d8a69a" stroke="#ba5c5c" stroke-width="2.5" />
<path d="M268.8,581.95 Q272.0,590.25 268.8,598.55 Q265.6,590.25 268.8,581.95 Z" fill="#b45656"/>
<path d="M275.0,581.95 Q278.2,590.25 275.0,598.55 Q271.8,590.25 275.0,581.95 Z" fill="#b45656"/>
<rect x="298.20" y="581.80" width="35.00" height="16.90" fill="none" stroke="#98203a" stroke-width="2.4" />
<path d="M315.6,582.05 Q318.8,590.25 315.6,598.45 Q312.4,590.25 315.6,582.05 Z" fill="#98203a"/>
<rect x="57.50" y="623.60" width="288.70" height="17.60" fill="#d8a69a" stroke="none" stroke-width="1" />
<rect x="64.40" y="623.60" width="36.90" height="17.60" fill="url(#hatch)" stroke="none" stroke-width="1" />
<text transform="translate(76.60,635.40) scale(1.019,1)" font-size="8.87" fill="#222" stroke="#222" stroke-width="0.079">TM</text>
<text transform="translate(30.38,635.25) scale(1.124,1)" font-size="8.88" fill="#2a2a2a" stroke="#2a2a2a" stroke-width="0.089">H533</text>
<rect x="253.30" y="623.50" width="35.00" height="17.80" fill="#d8a69a" stroke="#ba5c5c" stroke-width="2.5" />
<path d="M268.8,624.1000000000001 Q272.0,632.4000000000001 268.8,640.7 Q265.6,632.4000000000001 268.8,624.1000000000001 Z" fill="#b45656"/>
<path d="M275.0,624.1000000000001 Q278.2,632.4000000000001 275.0,640.7 Q271.8,632.4000000000001 275.0,624.1000000000001 Z" fill="#b45656"/>
<path d="M315.7,624.2 L317.9,632.4000000000001 L315.7,640.6000000000001 L313.5,632.4000000000001 Z" fill="#fff" stroke="#98203a" stroke-width="1.1"/>
<rect x="58.30" y="666.20" width="287.10" height="15.90" fill="#fff" stroke="#8e1a3a" stroke-width="1.6" />
<rect x="64.40" y="667.00" width="36.90" height="14.30" fill="url(#hatch)" stroke="none" stroke-width="1" />
<text transform="translate(76.60,677.15) scale(1.019,1)" font-size="8.87" fill="#222" stroke="#222" stroke-width="0.079">TM</text>
<text transform="translate(31.87,677.00) scale(1.056,1)" font-size="9.01" fill="#2a2a2a" stroke="#2a2a2a" stroke-width="0.095">H-D4</text>
<path d="M268.8,668.15 Q271.6,674.15 268.8,680.15 Q266.0,674.15 268.8,668.15 Z" fill="none" stroke="#b07a74" stroke-width="0.8"/>
<path d="M275.0,668.15 Q277.8,674.15 275.0,680.15 Q272.2,674.15 275.0,668.15 Z" fill="none" stroke="#b07a74" stroke-width="0.8"/>
<rect x="298.20" y="665.60" width="35.00" height="17.10" fill="none" stroke="#98203a" stroke-width="2.4" />
<path d="M315.6,665.9499999999999 Q318.8,674.15 315.6,682.35 Q312.4,674.15 315.6,665.9499999999999 Z" fill="#98203a"/>
<rect x="58.30" y="707.00" width="287.10" height="15.80" fill="#fff" stroke="#8e1a3a" stroke-width="1.6" />
<rect x="64.40" y="707.80" width="36.90" height="14.20" fill="url(#hatch)" stroke="none" stroke-width="1" />
<text transform="translate(76.60,717.90) scale(1.019,1)" font-size="8.87" fill="#222" stroke="#222" stroke-width="0.079">TM</text>
<text transform="translate(17.56,717.75) scale(1.011,1)" font-size="8.88" fill="#2a2a2a" stroke="#2a2a2a" stroke-width="0.099">H-D4-YG</text>
<rect x="253.30" y="706.10" width="35.00" height="17.60" fill="none" stroke="#ba5c5c" stroke-width="2.5" />
<path d="M268.8,706.6000000000001 Q272.0,714.9000000000001 268.8,723.2 Q265.6,714.9000000000001 268.8,706.6000000000001 Z" fill="#b45656"/>
<path d="M275.0,706.6000000000001 Q278.2,714.9000000000001 275.0,723.2 Q271.8,714.9000000000001 275.0,706.6000000000001 Z" fill="#b45656"/>
<rect x="298.20" y="706.40" width="35.00" height="17.00" fill="none" stroke="#98203a" stroke-width="2.4" />
<path d="M315.6,706.7 Q318.8,714.9000000000001 315.6,723.1000000000001 Q312.4,714.9000000000001 315.6,706.7 Z" fill="#98203a"/>
<text transform="translate(245.10,576.80) scale(1.095,1)" font-size="8.31" fill="#a37272" stroke="#a37272" stroke-width="0.137">Y481</text>
<text transform="translate(273.51,576.80) scale(1.180,1)" font-size="8.31" fill="#a37272" stroke="#a37272" stroke-width="0.127">G492</text>
<text transform="translate(305.81,576.80) scale(1.154,1)" font-size="8.31" fill="#7a2c45" stroke="#7a2c45" stroke-width="0.130">R533</text>
<text transform="translate(245.10,618.80) scale(1.095,1)" font-size="8.31" fill="#a37272" stroke="#a37272" stroke-width="0.137">Y481</text>
<text transform="translate(273.51,618.80) scale(1.180,1)" font-size="8.31" fill="#a37272" stroke="#a37272" stroke-width="0.127">G492</text>
<text transform="translate(306.58,618.80) scale(1.141,1)" font-size="8.31" fill="#7a2c45" stroke="#7a2c45" stroke-width="0.131">A533</text>
<text transform="translate(243.91,661.00) scale(1.156,1)" font-size="8.31" fill="#b48c8c" stroke="#b48c8c" stroke-width="0.130">N481</text>
<text transform="translate(274.11,661.00) scale(1.153,1)" font-size="8.31" fill="#b48c8c" stroke="#b48c8c" stroke-width="0.130">E492</text>
<text transform="translate(305.81,661.00) scale(1.154,1)" font-size="8.31" fill="#7a2c45" stroke="#7a2c45" stroke-width="0.130">R533</text>
<text transform="translate(245.10,701.70) scale(1.095,1)" font-size="8.31" fill="#a37272" stroke="#a37272" stroke-width="0.137">Y481</text>
<text transform="translate(273.51,701.70) scale(1.180,1)" font-size="8.31" fill="#a37272" stroke="#a37272" stroke-width="0.127">G492</text>
<text transform="translate(305.81,701.70) scale(1.154,1)" font-size="8.31" fill="#7a2c45" stroke="#7a2c45" stroke-width="0.130">R533</text>
<text transform="translate(257.79,735.20) scale(1.090,1)" font-size="9.17" fill="#b08080" stroke="#b08080" stroke-width="0.138">CD46</text>
<text transform="translate(255.40,746.40) scale(0.930,1)" font-size="9.94" fill="#b08080" stroke="#b08080" stroke-width="0.161">binding</text>
<text transform="translate(302.38,735.20) scale(1.017,1)" font-size="9.17" fill="#7a2c45" stroke="#7a2c45" stroke-width="0.147">SLAM</text>
<text transform="translate(300.40,746.40) scale(0.930,1)" font-size="9.94" fill="#7a2c45" stroke="#7a2c45" stroke-width="0.161">binding</text>
<line x1="355.90" y1="567.20" x2="355.90" y2="736.20" stroke="#000" stroke-width="1.6" />
<line x1="355.90" y1="735.50" x2="506.20" y2="735.50" stroke="#000" stroke-width="1.6" />
<line x1="355.90" y1="735.50" x2="355.90" y2="738.60" stroke="#000" stroke-width="1.2" />
<text transform="translate(353.11,750.00) scale(1.230,1)" font-size="8.16" fill="#2a2a2a" stroke="#2a2a2a" stroke-width="0.098">0</text>
<line x1="385.44" y1="735.50" x2="385.44" y2="738.60" stroke="#000" stroke-width="1.2" />
<text transform="translate(379.95,750.00) scale(1.198,1)" font-size="8.16" fill="#2a2a2a" stroke="#2a2a2a" stroke-width="0.100">20</text>
<line x1="414.98" y1="735.50" x2="414.98" y2="738.60" stroke="#000" stroke-width="1.2" />
<text transform="translate(409.76,750.00) scale(1.166,1)" font-size="8.16" fill="#2a2a2a" stroke="#2a2a2a" stroke-width="0.103">40</text>
<line x1="444.52" y1="735.50" x2="444.52" y2="738.60" stroke="#000" stroke-width="1.2" />
<text transform="translate(439.02,750.00) scale(1.198,1)" font-size="8.16" fill="#2a2a2a" stroke="#2a2a2a" stroke-width="0.100">60</text>
<line x1="474.06" y1="735.50" x2="474.06" y2="738.60" stroke="#000" stroke-width="1.2" />
<text transform="translate(468.64,750.00) scale(1.190,1)" font-size="8.16" fill="#2a2a2a" stroke="#2a2a2a" stroke-width="0.101">80</text>
<line x1="503.60" y1="735.50" x2="503.60" y2="738.60" stroke="#000" stroke-width="1.2" />
<text transform="translate(495.25,750.00) scale(1.199,1)" font-size="8.16" fill="#2a2a2a" stroke="#2a2a2a" stroke-width="0.100">100</text>
<line x1="470.66" y1="587.85" x2="489.57" y2="587.85" stroke="#222" stroke-width="1.3" />
<line x1="489.57" y1="584.55" x2="489.57" y2="591.15" stroke="#222" stroke-width="1.3" />
<rect x="355.90" y="579.60" width="114.76" height="16.50" fill="#a5002a" stroke="none" stroke-width="1" />
<line x1="446.44" y1="629.90" x2="482.04" y2="629.90" stroke="#222" stroke-width="1.3" />
<line x1="482.04" y1="626.60" x2="482.04" y2="633.20" stroke="#222" stroke-width="1.3" />
<rect x="355.90" y="621.50" width="90.54" height="16.80" fill="#a5002a" stroke="none" stroke-width="1" />
<line x1="449.69" y1="714.40" x2="466.38" y2="714.40" stroke="#222" stroke-width="1.3" />
<line x1="466.38" y1="711.10" x2="466.38" y2="717.70" stroke="#222" stroke-width="1.3" />
<rect x="355.90" y="706.40" width="93.79" height="16.00" fill="#a5002a" stroke="none" stroke-width="1" />
<text transform="translate(484.20,632.80) scale(0.990,1)" font-size="9.11" fill="#2a2a2a" stroke="#2a2a2a" stroke-width="0.222">ns</text>
<text transform="translate(467.67,716.80) scale(1.036,1)" font-size="9.11" fill="#2a2a2a" stroke="#2a2a2a" stroke-width="0.212">ns</text>
<line x1="404" y1="673.4" x2="364" y2="673.4" stroke="#000" stroke-width="1.4"/>
<path d="M359.8,673.4 L367.5,669.8 L365.5,673.4 L367.5,677 Z" fill="#000"/>
<text transform="translate(406.91,766.00) scale(0.871,1)" font-size="9.25" fill="#2a2a2a" stroke="#2a2a2a" stroke-width="0.460">% GFP+ cells</text>
</svg>
</body></html>
